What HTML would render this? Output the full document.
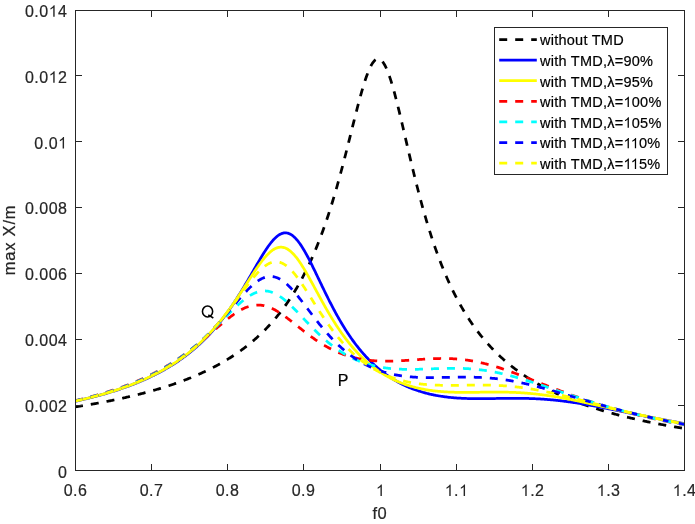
<!DOCTYPE html>
<html><head><meta charset="utf-8"><style>
html,body{margin:0;padding:0;background:#fff;}
svg{display:block;will-change:transform;}
text{font-family:"Liberation Sans",sans-serif;font-size:16px;fill:#262626;stroke:#262626;stroke-width:0.2;}
.tk{letter-spacing:0.5px;}
.al{font-size:16.5px;letter-spacing:0.8px;}
.lg{font-size:14.5px;letter-spacing:0.25px;fill:#000;stroke:#000;}
.bk{fill:#000;stroke:#000;}
.lg .g1{fill:#000;stroke:#000;}
.h1{fill:none;stroke:none;}
.g1{fill:#262626;stroke:#262626;stroke-width:0.2;}
</style></head><body>
<svg width="695" height="524" viewBox="0 0 695 524">
<rect width="695" height="524" fill="#fff"/>
<defs><clipPath id="c"><rect x="75" y="10" width="610" height="461"/></clipPath></defs>
<g clip-path="url(#c)">
<path d="M75.00 406.97 L75.76 406.85 L76.53 406.73 L77.29 406.61 L78.05 406.49 L78.81 406.37 L79.58 406.25 L80.34 406.12 L81.10 406.00 L81.86 405.88 L82.62 405.75 L83.39 405.63 L84.15 405.50 L84.91 405.38 L85.68 405.25 L86.44 405.12 L87.20 404.99 L87.96 404.87 L88.73 404.74 L89.49 404.61 L90.25 404.47 L91.01 404.34 L91.78 404.21 L92.54 404.08 L93.30 403.94 L94.06 403.81 L94.83 403.67 L95.59 403.53 L96.35 403.40 L97.11 403.26 L97.88 403.12 L98.64 402.98 L99.40 402.84 L100.16 402.70 L100.93 402.56 L101.69 402.42 L102.45 402.27 L103.21 402.13 L103.98 401.98 L104.74 401.84 L105.50 401.69 L106.26 401.54 L107.03 401.39 L107.79 401.24 L108.55 401.09 L109.31 400.94 L110.08 400.79 L110.84 400.64 L111.60 400.48 L112.36 400.33 L113.13 400.17 L113.89 400.02 L114.65 399.86 L115.41 399.70 L116.18 399.54 L116.94 399.38 L117.70 399.22 L118.46 399.06 L119.23 398.89 L119.99 398.73 L120.75 398.57 L121.51 398.40 L122.27 398.23 L123.04 398.06 L123.80 397.89 L124.56 397.72 L125.32 397.55 L126.09 397.38 L126.85 397.21 L127.61 397.03 L128.37 396.86 L129.14 396.68 L129.90 396.50 L130.66 396.32 L131.42 396.14 L132.19 395.96 L132.95 395.78 L133.71 395.60 L134.47 395.41 L135.24 395.23 L136.00 395.04 L136.76 394.85 L137.52 394.66 L138.29 394.47 L139.05 394.28 L139.81 394.09 L140.57 393.90 L141.34 393.70 L142.10 393.50 L142.86 393.31 L143.62 393.11 L144.39 392.91 L145.15 392.70 L145.91 392.50 L146.67 392.30 L147.44 392.09 L148.20 391.88 L148.96 391.68 L149.72 391.47 L150.49 391.25 L151.25 391.04 L152.01 390.83 L152.77 390.61 L153.54 390.40 L154.30 390.18 L155.06 389.96 L155.82 389.74 L156.59 389.51 L157.35 389.29 L158.11 389.06 L158.88 388.84 L159.64 388.61 L160.40 388.38 L161.16 388.14 L161.93 387.91 L162.69 387.67 L163.45 387.44 L164.21 387.20 L164.97 386.96 L165.74 386.72 L166.50 386.47 L167.26 386.23 L168.02 385.98 L168.79 385.73 L169.55 385.48 L170.31 385.23 L171.07 384.97 L171.84 384.72 L172.60 384.46 L173.36 384.20 L174.12 383.94 L174.89 383.67 L175.65 383.41 L176.41 383.14 L177.18 382.87 L177.94 382.60 L178.70 382.33 L179.46 382.05 L180.23 381.77 L180.99 381.49 L181.75 381.21 L182.51 380.93 L183.28 380.64 L184.04 380.35 L184.80 380.06 L185.56 379.77 L186.33 379.47 L187.09 379.18 L187.85 378.88 L188.61 378.58 L189.38 378.27 L190.14 377.96 L190.90 377.66 L191.66 377.34 L192.43 377.03 L193.19 376.71 L193.95 376.40 L194.71 376.07 L195.48 375.75 L196.24 375.42 L197.00 375.10 L197.76 374.76 L198.53 374.43 L199.29 374.09 L200.05 373.75 L200.81 373.41 L201.58 373.06 L202.34 372.72 L203.10 372.37 L203.86 372.01 L204.63 371.65 L205.39 371.29 L206.15 370.93 L206.91 370.57 L207.68 370.20 L208.44 369.82 L209.20 369.45 L209.96 369.07 L210.73 368.69 L211.49 368.30 L212.25 367.92 L213.01 367.52 L213.78 367.13 L214.54 366.73 L215.30 366.33 L216.06 365.92 L216.83 365.51 L217.59 365.10 L218.35 364.69 L219.11 364.27 L219.88 363.84 L220.64 363.41 L221.40 362.98 L222.16 362.55 L222.93 362.11 L223.69 361.67 L224.45 361.22 L225.21 360.77 L225.98 360.31 L226.74 359.85 L227.50 359.39 L228.26 358.92 L229.03 358.45 L229.79 357.97 L230.55 357.49 L231.31 357.00 L232.08 356.51 L232.84 356.02 L233.60 355.51 L234.36 355.01 L235.12 354.50 L235.89 353.98 L236.65 353.47 L237.41 352.94 L238.17 352.41 L238.94 351.87 L239.70 351.33 L240.46 350.79 L241.22 350.24 L241.99 349.68 L242.75 349.12 L243.51 348.55 L244.27 347.97 L245.04 347.39 L245.80 346.81 L246.56 346.22 L247.32 345.62 L248.09 345.01 L248.85 344.40 L249.61 343.79 L250.38 343.16 L251.14 342.53 L251.90 341.90 L252.66 341.25 L253.42 340.60 L254.19 339.95 L254.95 339.28 L255.71 338.61 L256.48 337.93 L257.24 337.25 L258.00 336.55 L258.76 335.85 L259.52 335.14 L260.29 334.43 L261.05 333.70 L261.81 332.97 L262.57 332.23 L263.34 331.48 L264.10 330.72 L264.86 329.95 L265.62 329.18 L266.39 328.39 L267.15 327.60 L267.91 326.80 L268.68 325.98 L269.44 325.16 L270.20 324.33 L270.96 323.49 L271.73 322.64 L272.49 321.78 L273.25 320.91 L274.01 320.02 L274.77 319.13 L275.54 318.23 L276.30 317.31 L277.06 316.39 L277.83 315.45 L278.59 314.50 L279.35 313.54 L280.11 312.57 L280.88 311.59 L281.64 310.59 L282.40 309.58 L283.16 308.56 L283.93 307.52 L284.69 306.47 L285.45 305.41 L286.21 304.34 L286.98 303.25 L287.74 302.14 L288.50 301.02 L289.26 299.89 L290.03 298.74 L290.79 297.58 L291.55 296.40 L292.31 295.21 L293.08 294.00 L293.84 292.77 L294.60 291.53 L295.36 290.27 L296.12 288.99 L296.89 287.70 L297.65 286.39 L298.41 285.06 L299.17 283.71 L299.94 282.34 L300.70 280.96 L301.46 279.55 L302.22 278.13 L302.99 276.68 L303.75 275.22 L304.51 273.73 L305.27 272.23 L306.04 270.70 L306.80 269.15 L307.56 267.58 L308.32 265.98 L309.09 264.37 L309.85 262.73 L310.61 261.06 L311.37 259.38 L312.14 257.67 L312.90 255.93 L313.66 254.17 L314.42 252.38 L315.19 250.57 L315.95 248.73 L316.71 246.87 L317.47 244.98 L318.24 243.06 L319.00 241.11 L319.76 239.13 L320.52 237.13 L321.29 235.10 L322.05 233.04 L322.81 230.95 L323.57 228.83 L324.34 226.68 L325.10 224.50 L325.86 222.29 L326.62 220.04 L327.39 217.77 L328.15 215.47 L328.91 213.13 L329.67 210.76 L330.44 208.36 L331.20 205.93 L331.96 203.47 L332.72 200.98 L333.49 198.45 L334.25 195.89 L335.01 193.30 L335.77 190.68 L336.54 188.03 L337.30 185.35 L338.06 182.63 L338.82 179.89 L339.59 177.12 L340.35 174.32 L341.11 171.49 L341.88 168.64 L342.64 165.76 L343.40 162.85 L344.16 159.92 L344.93 156.97 L345.69 154.00 L346.45 151.01 L347.21 148.01 L347.97 144.99 L348.74 141.96 L349.50 138.91 L350.26 135.86 L351.02 132.81 L351.79 129.75 L352.55 126.70 L353.31 123.65 L354.07 120.61 L354.84 117.59 L355.60 114.58 L356.36 111.59 L357.12 108.63 L357.89 105.69 L358.65 102.80 L359.41 99.94 L360.18 97.13 L360.94 94.38 L361.70 91.68 L362.46 89.04 L363.23 86.48 L363.99 83.99 L364.75 81.58 L365.51 79.26 L366.27 77.04 L367.04 74.92 L367.80 72.90 L368.56 71.00 L369.32 69.22 L370.09 67.56 L370.85 66.03 L371.61 64.64 L372.38 63.39 L373.14 62.28 L373.90 61.33 L374.66 60.52 L375.43 59.88 L376.19 59.39 L376.95 59.06 L377.71 58.90 L378.48 58.90 L379.24 59.06 L380.00 59.39 L380.76 59.89 L381.53 60.54 L382.29 61.36 L383.05 62.33 L383.81 63.46 L384.58 64.75 L385.34 66.17 L386.10 67.75 L386.86 69.46 L387.62 71.31 L388.39 73.28 L389.15 75.38 L389.91 77.59 L390.68 79.91 L391.44 82.34 L392.20 84.87 L392.96 87.48 L393.73 90.19 L394.49 92.97 L395.25 95.82 L396.01 98.74 L396.78 101.72 L397.54 104.75 L398.30 107.83 L399.06 110.95 L399.83 114.11 L400.59 117.30 L401.35 120.52 L402.11 123.76 L402.88 127.01 L403.64 130.28 L404.40 133.55 L405.16 136.83 L405.93 140.11 L406.69 143.39 L407.45 146.66 L408.21 149.92 L408.98 153.17 L409.74 156.41 L410.50 159.63 L411.26 162.83 L412.03 166.01 L412.79 169.16 L413.55 172.29 L414.31 175.40 L415.08 178.48 L415.84 181.53 L416.60 184.54 L417.36 187.53 L418.13 190.49 L418.89 193.41 L419.65 196.31 L420.41 199.17 L421.18 201.99 L421.94 204.78 L422.70 207.54 L423.46 210.26 L424.23 212.94 L424.99 215.60 L425.75 218.21 L426.51 220.80 L427.28 223.34 L428.04 225.86 L428.80 228.33 L429.56 230.78 L430.33 233.19 L431.09 235.56 L431.85 237.90 L432.61 240.21 L433.38 242.49 L434.14 244.73 L434.90 246.94 L435.66 249.12 L436.43 251.27 L437.19 253.38 L437.95 255.47 L438.71 257.52 L439.48 259.55 L440.24 261.54 L441.00 263.51 L441.76 265.45 L442.52 267.36 L443.29 269.24 L444.05 271.09 L444.81 272.92 L445.57 274.72 L446.34 276.50 L447.10 278.25 L447.86 279.97 L448.62 281.67 L449.39 283.34 L450.15 284.99 L450.91 286.62 L451.67 288.22 L452.44 289.80 L453.20 291.36 L453.96 292.90 L454.72 294.41 L455.49 295.90 L456.25 297.37 L457.01 298.83 L457.77 300.26 L458.54 301.67 L459.30 303.06 L460.06 304.43 L460.82 305.78 L461.59 307.12 L462.35 308.43 L463.11 309.73 L463.87 311.01 L464.64 312.28 L465.40 313.52 L466.16 314.75 L466.92 315.97 L467.69 317.17 L468.45 318.35 L469.21 319.51 L469.97 320.66 L470.74 321.80 L471.50 322.92 L472.26 324.03 L473.02 325.12 L473.79 326.20 L474.55 327.26 L475.31 328.31 L476.07 329.35 L476.84 330.37 L477.60 331.39 L478.36 332.38 L479.12 333.37 L479.89 334.35 L480.65 335.31 L481.41 336.26 L482.17 337.20 L482.94 338.12 L483.70 339.04 L484.46 339.95 L485.22 340.84 L485.99 341.72 L486.75 342.60 L487.51 343.46 L488.27 344.31 L489.04 345.15 L489.80 345.99 L490.56 346.81 L491.32 347.62 L492.09 348.43 L492.85 349.22 L493.61 350.01 L494.37 350.78 L495.14 351.55 L495.90 352.31 L496.66 353.06 L497.42 353.81 L498.19 354.54 L498.95 355.27 L499.71 355.98 L500.47 356.69 L501.24 357.40 L502.00 358.09 L502.76 358.78 L503.52 359.46 L504.29 360.13 L505.05 360.80 L505.81 361.45 L506.57 362.11 L507.34 362.75 L508.10 363.39 L508.86 364.02 L509.62 364.64 L510.39 365.26 L511.15 365.87 L511.91 366.48 L512.67 367.08 L513.44 367.67 L514.20 368.26 L514.96 368.84 L515.72 369.42 L516.49 369.98 L517.25 370.55 L518.01 371.11 L518.77 371.66 L519.54 372.21 L520.30 372.75 L521.06 373.29 L521.83 373.82 L522.59 374.34 L523.35 374.87 L524.11 375.38 L524.88 375.89 L525.64 376.40 L526.40 376.90 L527.16 377.40 L527.92 377.89 L528.69 378.38 L529.45 378.86 L530.21 379.34 L530.97 379.81 L531.74 380.28 L532.50 380.75 L533.26 381.21 L534.02 381.67 L534.79 382.12 L535.55 382.57 L536.31 383.01 L537.08 383.46 L537.84 383.89 L538.60 384.32 L539.36 384.75 L540.12 385.18 L540.89 385.60 L541.65 386.02 L542.41 386.43 L543.17 386.84 L543.94 387.25 L544.70 387.66 L545.46 388.06 L546.23 388.45 L546.99 388.85 L547.75 389.24 L548.51 389.62 L549.27 390.01 L550.04 390.39 L550.80 390.76 L551.56 391.14 L552.33 391.51 L553.09 391.88 L553.85 392.24 L554.61 392.60 L555.38 392.96 L556.14 393.32 L556.90 393.67 L557.66 394.02 L558.42 394.37 L559.19 394.71 L559.95 395.05 L560.71 395.39 L561.48 395.73 L562.24 396.06 L563.00 396.40 L563.76 396.72 L564.53 397.05 L565.29 397.37 L566.05 397.69 L566.81 398.01 L567.58 398.33 L568.34 398.64 L569.10 398.95 L569.86 399.26 L570.62 399.57 L571.39 399.87 L572.15 400.17 L572.91 400.47 L573.67 400.77 L574.44 401.07 L575.20 401.36 L575.96 401.65 L576.73 401.94 L577.49 402.22 L578.25 402.51 L579.01 402.79 L579.78 403.07 L580.54 403.35 L581.30 403.62 L582.06 403.90 L582.83 404.17 L583.59 404.44 L584.35 404.71 L585.11 404.98 L585.88 405.24 L586.64 405.50 L587.40 405.76 L588.16 406.02 L588.93 406.28 L589.69 406.53 L590.45 406.79 L591.21 407.04 L591.98 407.29 L592.74 407.54 L593.50 407.78 L594.26 408.03 L595.03 408.27 L595.79 408.51 L596.55 408.75 L597.31 408.99 L598.08 409.23 L598.84 409.46 L599.60 409.70 L600.36 409.93 L601.12 410.16 L601.89 410.39 L602.65 410.61 L603.41 410.84 L604.18 411.06 L604.94 411.29 L605.70 411.51 L606.46 411.73 L607.23 411.95 L607.99 412.16 L608.75 412.38 L609.51 412.59 L610.28 412.81 L611.04 413.02 L611.80 413.23 L612.56 413.44 L613.33 413.64 L614.09 413.85 L614.85 414.05 L615.61 414.26 L616.38 414.46 L617.14 414.66 L617.90 414.86 L618.66 415.06 L619.43 415.26 L620.19 415.45 L620.95 415.65 L621.71 415.84 L622.48 416.03 L623.24 416.22 L624.00 416.41 L624.76 416.60 L625.53 416.79 L626.29 416.98 L627.05 417.16 L627.81 417.35 L628.58 417.53 L629.34 417.71 L630.10 417.89 L630.86 418.07 L631.63 418.25 L632.39 418.43 L633.15 418.61 L633.91 418.78 L634.68 418.96 L635.44 419.13 L636.20 419.30 L636.96 419.47 L637.73 419.64 L638.49 419.81 L639.25 419.98 L640.01 420.15 L640.78 420.32 L641.54 420.48 L642.30 420.65 L643.06 420.81 L643.83 420.97 L644.59 421.14 L645.35 421.30 L646.11 421.46 L646.88 421.62 L647.64 421.78 L648.40 421.93 L649.16 422.09 L649.93 422.25 L650.69 422.40 L651.45 422.55 L652.21 422.71 L652.98 422.86 L653.74 423.01 L654.50 423.16 L655.26 423.31 L656.03 423.46 L656.79 423.61 L657.55 423.76 L658.31 423.90 L659.08 424.05 L659.84 424.19 L660.60 424.34 L661.36 424.48 L662.13 424.62 L662.89 424.77 L663.65 424.91 L664.41 425.05 L665.18 425.19 L665.94 425.33 L666.70 425.46 L667.46 425.60 L668.23 425.74 L668.99 425.87 L669.75 426.01 L670.51 426.14 L671.28 426.28 L672.04 426.41 L672.80 426.54 L673.56 426.67 L674.33 426.81 L675.09 426.94 L675.85 427.07 L676.61 427.20 L677.38 427.32 L678.14 427.45 L678.90 427.58 L679.66 427.71 L680.43 427.83 L681.19 427.96 L681.95 428.08 L682.71 428.20 L683.48 428.33 L684.24 428.45 L685.00 428.57" fill="none" stroke="#000000" stroke-width="2.75" stroke-dasharray="8 8" stroke-linejoin="round"/>
<path d="M75.00 401.29 L75.76 401.12 L76.53 400.95 L77.29 400.79 L78.05 400.61 L78.81 400.44 L79.58 400.27 L80.34 400.10 L81.10 399.92 L81.86 399.75 L82.62 399.57 L83.39 399.39 L84.15 399.21 L84.91 399.03 L85.68 398.85 L86.44 398.66 L87.20 398.48 L87.96 398.29 L88.73 398.10 L89.49 397.91 L90.25 397.72 L91.01 397.53 L91.78 397.34 L92.54 397.14 L93.30 396.95 L94.06 396.75 L94.83 396.55 L95.59 396.35 L96.35 396.15 L97.11 395.95 L97.88 395.74 L98.64 395.53 L99.40 395.33 L100.16 395.12 L100.93 394.91 L101.69 394.69 L102.45 394.48 L103.21 394.26 L103.98 394.05 L104.74 393.83 L105.50 393.61 L106.26 393.39 L107.03 393.16 L107.79 392.94 L108.55 392.71 L109.31 392.48 L110.08 392.25 L110.84 392.02 L111.60 391.78 L112.36 391.55 L113.13 391.31 L113.89 391.07 L114.65 390.83 L115.41 390.58 L116.18 390.34 L116.94 390.09 L117.70 389.84 L118.46 389.59 L119.23 389.33 L119.99 389.08 L120.75 388.82 L121.51 388.56 L122.27 388.30 L123.04 388.03 L123.80 387.77 L124.56 387.50 L125.32 387.23 L126.09 386.96 L126.85 386.68 L127.61 386.40 L128.37 386.12 L129.14 385.84 L129.90 385.56 L130.66 385.27 L131.42 384.98 L132.19 384.69 L132.95 384.39 L133.71 384.10 L134.47 383.80 L135.24 383.50 L136.00 383.19 L136.76 382.88 L137.52 382.57 L138.29 382.26 L139.05 381.95 L139.81 381.63 L140.57 381.31 L141.34 380.98 L142.10 380.66 L142.86 380.33 L143.62 380.00 L144.39 379.66 L145.15 379.32 L145.91 378.98 L146.67 378.64 L147.44 378.29 L148.20 377.94 L148.96 377.58 L149.72 377.23 L150.49 376.86 L151.25 376.50 L152.01 376.13 L152.77 375.76 L153.54 375.39 L154.30 375.01 L155.06 374.63 L155.82 374.24 L156.59 373.85 L157.35 373.46 L158.11 373.07 L158.88 372.67 L159.64 372.26 L160.40 371.85 L161.16 371.44 L161.93 371.03 L162.69 370.61 L163.45 370.18 L164.21 369.75 L164.97 369.32 L165.74 368.89 L166.50 368.44 L167.26 368.00 L168.02 367.55 L168.79 367.09 L169.55 366.64 L170.31 366.17 L171.07 365.70 L171.84 365.23 L172.60 364.75 L173.36 364.27 L174.12 363.78 L174.89 363.29 L175.65 362.79 L176.41 362.29 L177.18 361.78 L177.94 361.27 L178.70 360.75 L179.46 360.22 L180.23 359.69 L180.99 359.16 L181.75 358.61 L182.51 358.07 L183.28 357.51 L184.04 356.96 L184.80 356.39 L185.56 355.82 L186.33 355.24 L187.09 354.66 L187.85 354.07 L188.61 353.47 L189.38 352.87 L190.14 352.26 L190.90 351.64 L191.66 351.02 L192.43 350.39 L193.19 349.75 L193.95 349.11 L194.71 348.46 L195.48 347.80 L196.24 347.13 L197.00 346.46 L197.76 345.78 L198.53 345.09 L199.29 344.39 L200.05 343.69 L200.81 342.98 L201.58 342.25 L202.34 341.53 L203.10 340.79 L203.86 340.04 L204.63 339.29 L205.39 338.53 L206.15 337.76 L206.91 336.98 L207.68 336.19 L208.44 335.39 L209.20 334.58 L209.96 333.77 L210.73 332.94 L211.49 332.11 L212.25 331.26 L213.01 330.41 L213.78 329.54 L214.54 328.67 L215.30 327.79 L216.06 326.89 L216.83 325.99 L217.59 325.07 L218.35 324.15 L219.11 323.21 L219.88 322.27 L220.64 321.31 L221.40 320.35 L222.16 319.37 L222.93 318.38 L223.69 317.38 L224.45 316.37 L225.21 315.35 L225.98 314.32 L226.74 313.28 L227.50 312.22 L228.26 311.16 L229.03 310.08 L229.79 309.00 L230.55 307.90 L231.31 306.79 L232.08 305.67 L232.84 304.54 L233.60 303.40 L234.36 302.24 L235.12 301.08 L235.89 299.91 L236.65 298.72 L237.41 297.53 L238.17 296.32 L238.94 295.11 L239.70 293.89 L240.46 292.65 L241.22 291.41 L241.99 290.16 L242.75 288.90 L243.51 287.63 L244.27 286.35 L245.04 285.07 L245.80 283.78 L246.56 282.48 L247.32 281.17 L248.09 279.86 L248.85 278.55 L249.61 277.23 L250.38 275.91 L251.14 274.59 L251.90 273.26 L252.66 271.93 L253.42 270.60 L254.19 269.27 L254.95 267.95 L255.71 266.62 L256.48 265.30 L257.24 263.99 L258.00 262.68 L258.76 261.38 L259.52 260.08 L260.29 258.80 L261.05 257.53 L261.81 256.27 L262.57 255.02 L263.34 253.79 L264.10 252.58 L264.86 251.38 L265.62 250.21 L266.39 249.06 L267.15 247.93 L267.91 246.83 L268.68 245.76 L269.44 244.72 L270.20 243.71 L270.96 242.73 L271.73 241.79 L272.49 240.88 L273.25 240.02 L274.01 239.19 L274.77 238.41 L275.54 237.68 L276.30 236.98 L277.06 236.34 L277.83 235.75 L278.59 235.21 L279.35 234.72 L280.11 234.29 L280.88 233.91 L281.64 233.59 L282.40 233.32 L283.16 233.12 L283.93 232.97 L284.69 232.89 L285.45 232.86 L286.21 232.90 L286.98 233.00 L287.74 233.17 L288.50 233.39 L289.26 233.68 L290.03 234.02 L290.79 234.43 L291.55 234.90 L292.31 235.43 L293.08 236.02 L293.84 236.67 L294.60 237.37 L295.36 238.13 L296.12 238.95 L296.89 239.81 L297.65 240.73 L298.41 241.70 L299.17 242.72 L299.94 243.78 L300.70 244.89 L301.46 246.04 L302.22 247.23 L302.99 248.46 L303.75 249.72 L304.51 251.02 L305.27 252.35 L306.04 253.72 L306.80 255.11 L307.56 256.52 L308.32 257.97 L309.09 259.43 L309.85 260.91 L310.61 262.42 L311.37 263.94 L312.14 265.47 L312.90 267.02 L313.66 268.58 L314.42 270.14 L315.19 271.72 L315.95 273.30 L316.71 274.89 L317.47 276.48 L318.24 278.08 L319.00 279.67 L319.76 281.27 L320.52 282.86 L321.29 284.45 L322.05 286.04 L322.81 287.62 L323.57 289.19 L324.34 290.76 L325.10 292.33 L325.86 293.88 L326.62 295.43 L327.39 296.96 L328.15 298.49 L328.91 300.01 L329.67 301.51 L330.44 303.00 L331.20 304.48 L331.96 305.95 L332.72 307.40 L333.49 308.85 L334.25 310.27 L335.01 311.69 L335.77 313.09 L336.54 314.47 L337.30 315.84 L338.06 317.20 L338.82 318.54 L339.59 319.87 L340.35 321.18 L341.11 322.47 L341.88 323.75 L342.64 325.02 L343.40 326.27 L344.16 327.50 L344.93 328.72 L345.69 329.93 L346.45 331.12 L347.21 332.29 L347.97 333.45 L348.74 334.59 L349.50 335.72 L350.26 336.83 L351.02 337.93 L351.79 339.02 L352.55 340.09 L353.31 341.14 L354.07 342.18 L354.84 343.21 L355.60 344.22 L356.36 345.22 L357.12 346.20 L357.89 347.17 L358.65 348.12 L359.41 349.07 L360.18 350.00 L360.94 350.91 L361.70 351.81 L362.46 352.70 L363.23 353.58 L363.99 354.44 L364.75 355.29 L365.51 356.13 L366.27 356.96 L367.04 357.77 L367.80 358.57 L368.56 359.36 L369.32 360.14 L370.09 360.91 L370.85 361.66 L371.61 362.41 L372.38 363.14 L373.14 363.86 L373.90 364.57 L374.66 365.27 L375.43 365.96 L376.19 366.63 L376.95 367.30 L377.71 367.96 L378.48 368.60 L379.24 369.24 L380.00 369.87 L380.76 370.49 L381.53 371.09 L382.29 371.69 L383.05 372.28 L383.81 372.86 L384.58 373.43 L385.34 373.99 L386.10 374.54 L386.86 375.08 L387.62 375.61 L388.39 376.14 L389.15 376.66 L389.91 377.16 L390.68 377.66 L391.44 378.15 L392.20 378.64 L392.96 379.11 L393.73 379.58 L394.49 380.04 L395.25 380.49 L396.01 380.93 L396.78 381.37 L397.54 381.80 L398.30 382.22 L399.06 382.63 L399.83 383.04 L400.59 383.44 L401.35 383.83 L402.11 384.21 L402.88 384.59 L403.64 384.96 L404.40 385.33 L405.16 385.68 L405.93 386.04 L406.69 386.38 L407.45 386.72 L408.21 387.05 L408.98 387.38 L409.74 387.69 L410.50 388.01 L411.26 388.32 L412.03 388.62 L412.79 388.91 L413.55 389.20 L414.31 389.48 L415.08 389.76 L415.84 390.03 L416.60 390.30 L417.36 390.56 L418.13 390.82 L418.89 391.07 L419.65 391.31 L420.41 391.55 L421.18 391.79 L421.94 392.02 L422.70 392.24 L423.46 392.46 L424.23 392.67 L424.99 392.88 L425.75 393.09 L426.51 393.29 L427.28 393.48 L428.04 393.67 L428.80 393.86 L429.56 394.04 L430.33 394.22 L431.09 394.39 L431.85 394.56 L432.61 394.72 L433.38 394.88 L434.14 395.04 L434.90 395.19 L435.66 395.33 L436.43 395.48 L437.19 395.62 L437.95 395.75 L438.71 395.88 L439.48 396.01 L440.24 396.13 L441.00 396.25 L441.76 396.37 L442.52 396.48 L443.29 396.59 L444.05 396.70 L444.81 396.80 L445.57 396.90 L446.34 396.99 L447.10 397.08 L447.86 397.17 L448.62 397.26 L449.39 397.34 L450.15 397.42 L450.91 397.50 L451.67 397.57 L452.44 397.64 L453.20 397.71 L453.96 397.78 L454.72 397.84 L455.49 397.90 L456.25 397.95 L457.01 398.01 L457.77 398.06 L458.54 398.11 L459.30 398.16 L460.06 398.20 L460.82 398.24 L461.59 398.28 L462.35 398.32 L463.11 398.35 L463.87 398.39 L464.64 398.42 L465.40 398.45 L466.16 398.47 L466.92 398.50 L467.69 398.52 L468.45 398.54 L469.21 398.56 L469.97 398.58 L470.74 398.60 L471.50 398.61 L472.26 398.62 L473.02 398.64 L473.79 398.65 L474.55 398.65 L475.31 398.66 L476.07 398.67 L476.84 398.67 L477.60 398.67 L478.36 398.68 L479.12 398.68 L479.89 398.68 L480.65 398.67 L481.41 398.67 L482.17 398.67 L482.94 398.66 L483.70 398.66 L484.46 398.65 L485.22 398.65 L485.99 398.64 L486.75 398.63 L487.51 398.62 L488.27 398.61 L489.04 398.61 L489.80 398.60 L490.56 398.58 L491.32 398.57 L492.09 398.56 L492.85 398.55 L493.61 398.54 L494.37 398.53 L495.14 398.52 L495.90 398.50 L496.66 398.49 L497.42 398.48 L498.19 398.47 L498.95 398.46 L499.71 398.44 L500.47 398.43 L501.24 398.42 L502.00 398.41 L502.76 398.40 L503.52 398.39 L504.29 398.38 L505.05 398.37 L505.81 398.36 L506.57 398.35 L507.34 398.35 L508.10 398.34 L508.86 398.33 L509.62 398.33 L510.39 398.32 L511.15 398.32 L511.91 398.31 L512.67 398.31 L513.44 398.31 L514.20 398.31 L514.96 398.30 L515.72 398.31 L516.49 398.31 L517.25 398.31 L518.01 398.31 L518.77 398.32 L519.54 398.32 L520.30 398.33 L521.06 398.34 L521.83 398.35 L522.59 398.36 L523.35 398.37 L524.11 398.38 L524.88 398.40 L525.64 398.41 L526.40 398.43 L527.16 398.45 L527.92 398.47 L528.69 398.49 L529.45 398.51 L530.21 398.54 L530.97 398.56 L531.74 398.59 L532.50 398.62 L533.26 398.65 L534.02 398.68 L534.79 398.71 L535.55 398.75 L536.31 398.78 L537.08 398.82 L537.84 398.86 L538.60 398.90 L539.36 398.95 L540.12 398.99 L540.89 399.04 L541.65 399.08 L542.41 399.13 L543.17 399.18 L543.94 399.23 L544.70 399.29 L545.46 399.34 L546.23 399.40 L546.99 399.46 L547.75 399.52 L548.51 399.58 L549.27 399.65 L550.04 399.71 L550.80 399.78 L551.56 399.85 L552.33 399.92 L553.09 399.99 L553.85 400.07 L554.61 400.14 L555.38 400.22 L556.14 400.30 L556.90 400.38 L557.66 400.46 L558.42 400.54 L559.19 400.63 L559.95 400.72 L560.71 400.80 L561.48 400.89 L562.24 400.99 L563.00 401.08 L563.76 401.17 L564.53 401.27 L565.29 401.37 L566.05 401.46 L566.81 401.56 L567.58 401.67 L568.34 401.77 L569.10 401.87 L569.86 401.98 L570.62 402.09 L571.39 402.20 L572.15 402.31 L572.91 402.42 L573.67 402.53 L574.44 402.64 L575.20 402.76 L575.96 402.87 L576.73 402.99 L577.49 403.11 L578.25 403.23 L579.01 403.35 L579.78 403.47 L580.54 403.60 L581.30 403.72 L582.06 403.85 L582.83 403.98 L583.59 404.10 L584.35 404.23 L585.11 404.36 L585.88 404.49 L586.64 404.62 L587.40 404.76 L588.16 404.89 L588.93 405.03 L589.69 405.16 L590.45 405.30 L591.21 405.43 L591.98 405.57 L592.74 405.71 L593.50 405.85 L594.26 405.99 L595.03 406.13 L595.79 406.27 L596.55 406.42 L597.31 406.56 L598.08 406.70 L598.84 406.85 L599.60 406.99 L600.36 407.14 L601.12 407.29 L601.89 407.43 L602.65 407.58 L603.41 407.73 L604.18 407.88 L604.94 408.03 L605.70 408.17 L606.46 408.32 L607.23 408.47 L607.99 408.63 L608.75 408.78 L609.51 408.93 L610.28 409.08 L611.04 409.23 L611.80 409.38 L612.56 409.54 L613.33 409.69 L614.09 409.84 L614.85 410.00 L615.61 410.15 L616.38 410.30 L617.14 410.46 L617.90 410.61 L618.66 410.77 L619.43 410.92 L620.19 411.08 L620.95 411.23 L621.71 411.39 L622.48 411.54 L623.24 411.70 L624.00 411.85 L624.76 412.01 L625.53 412.16 L626.29 412.32 L627.05 412.48 L627.81 412.63 L628.58 412.79 L629.34 412.94 L630.10 413.10 L630.86 413.25 L631.63 413.41 L632.39 413.56 L633.15 413.72 L633.91 413.87 L634.68 414.03 L635.44 414.18 L636.20 414.34 L636.96 414.49 L637.73 414.65 L638.49 414.80 L639.25 414.96 L640.01 415.11 L640.78 415.26 L641.54 415.42 L642.30 415.57 L643.06 415.72 L643.83 415.88 L644.59 416.03 L645.35 416.18 L646.11 416.34 L646.88 416.49 L647.64 416.64 L648.40 416.79 L649.16 416.94 L649.93 417.09 L650.69 417.24 L651.45 417.39 L652.21 417.54 L652.98 417.69 L653.74 417.84 L654.50 417.99 L655.26 418.14 L656.03 418.29 L656.79 418.44 L657.55 418.59 L658.31 418.73 L659.08 418.88 L659.84 419.03 L660.60 419.18 L661.36 419.32 L662.13 419.47 L662.89 419.61 L663.65 419.76 L664.41 419.90 L665.18 420.05 L665.94 420.19 L666.70 420.34 L667.46 420.48 L668.23 420.62 L668.99 420.76 L669.75 420.91 L670.51 421.05 L671.28 421.19 L672.04 421.33 L672.80 421.47 L673.56 421.61 L674.33 421.75 L675.09 421.89 L675.85 422.03 L676.61 422.17 L677.38 422.30 L678.14 422.44 L678.90 422.58 L679.66 422.71 L680.43 422.85 L681.19 422.99 L681.95 423.12 L682.71 423.26 L683.48 423.39 L684.24 423.53 L685.00 423.66" fill="none" stroke="#0000ff" stroke-width="2.75" stroke-linejoin="round"/>
<path d="M75.00 401.19 L75.76 401.02 L76.53 400.85 L77.29 400.68 L78.05 400.51 L78.81 400.34 L79.58 400.16 L80.34 399.99 L81.10 399.81 L81.86 399.63 L82.62 399.46 L83.39 399.28 L84.15 399.09 L84.91 398.91 L85.68 398.73 L86.44 398.54 L87.20 398.36 L87.96 398.17 L88.73 397.98 L89.49 397.79 L90.25 397.60 L91.01 397.40 L91.78 397.21 L92.54 397.01 L93.30 396.81 L94.06 396.61 L94.83 396.41 L95.59 396.21 L96.35 396.01 L97.11 395.80 L97.88 395.60 L98.64 395.39 L99.40 395.18 L100.16 394.97 L100.93 394.75 L101.69 394.54 L102.45 394.32 L103.21 394.11 L103.98 393.89 L104.74 393.67 L105.50 393.44 L106.26 393.22 L107.03 392.99 L107.79 392.77 L108.55 392.54 L109.31 392.30 L110.08 392.07 L110.84 391.84 L111.60 391.60 L112.36 391.36 L113.13 391.12 L113.89 390.88 L114.65 390.63 L115.41 390.39 L116.18 390.14 L116.94 389.89 L117.70 389.64 L118.46 389.38 L119.23 389.13 L119.99 388.87 L120.75 388.61 L121.51 388.35 L122.27 388.08 L123.04 387.81 L123.80 387.54 L124.56 387.27 L125.32 387.00 L126.09 386.72 L126.85 386.45 L127.61 386.16 L128.37 385.88 L129.14 385.60 L129.90 385.31 L130.66 385.02 L131.42 384.73 L132.19 384.43 L132.95 384.13 L133.71 383.83 L134.47 383.53 L135.24 383.23 L136.00 382.92 L136.76 382.61 L137.52 382.29 L138.29 381.98 L139.05 381.66 L139.81 381.34 L140.57 381.01 L141.34 380.68 L142.10 380.35 L142.86 380.02 L143.62 379.68 L144.39 379.34 L145.15 379.00 L145.91 378.66 L146.67 378.31 L147.44 377.96 L148.20 377.60 L148.96 377.24 L149.72 376.88 L150.49 376.52 L151.25 376.15 L152.01 375.78 L152.77 375.40 L153.54 375.02 L154.30 374.64 L155.06 374.25 L155.82 373.86 L156.59 373.47 L157.35 373.07 L158.11 372.67 L158.88 372.27 L159.64 371.86 L160.40 371.44 L161.16 371.03 L161.93 370.61 L162.69 370.18 L163.45 369.75 L164.21 369.32 L164.97 368.88 L165.74 368.44 L166.50 367.99 L167.26 367.54 L168.02 367.09 L168.79 366.63 L169.55 366.16 L170.31 365.70 L171.07 365.22 L171.84 364.74 L172.60 364.26 L173.36 363.77 L174.12 363.28 L174.89 362.78 L175.65 362.28 L176.41 361.77 L177.18 361.25 L177.94 360.73 L178.70 360.21 L179.46 359.68 L180.23 359.14 L180.99 358.60 L181.75 358.05 L182.51 357.50 L183.28 356.94 L184.04 356.38 L184.80 355.81 L185.56 355.23 L186.33 354.65 L187.09 354.06 L187.85 353.46 L188.61 352.86 L189.38 352.25 L190.14 351.64 L190.90 351.02 L191.66 350.39 L192.43 349.75 L193.19 349.11 L193.95 348.46 L194.71 347.81 L195.48 347.14 L196.24 346.47 L197.00 345.80 L197.76 345.11 L198.53 344.42 L199.29 343.72 L200.05 343.01 L200.81 342.30 L201.58 341.57 L202.34 340.84 L203.10 340.10 L203.86 339.36 L204.63 338.60 L205.39 337.84 L206.15 337.07 L206.91 336.29 L207.68 335.50 L208.44 334.70 L209.20 333.89 L209.96 333.08 L210.73 332.26 L211.49 331.42 L212.25 330.58 L213.01 329.73 L213.78 328.87 L214.54 328.01 L215.30 327.13 L216.06 326.24 L216.83 325.35 L217.59 324.44 L218.35 323.53 L219.11 322.60 L219.88 321.67 L220.64 320.73 L221.40 319.78 L222.16 318.82 L222.93 317.85 L223.69 316.87 L224.45 315.88 L225.21 314.88 L225.98 313.87 L226.74 312.85 L227.50 311.83 L228.26 310.79 L229.03 309.75 L229.79 308.69 L230.55 307.63 L231.31 306.56 L232.08 305.48 L232.84 304.40 L233.60 303.30 L234.36 302.20 L235.12 301.09 L235.89 299.97 L236.65 298.84 L237.41 297.71 L238.17 296.57 L238.94 295.43 L239.70 294.27 L240.46 293.12 L241.22 291.96 L241.99 290.79 L242.75 289.62 L243.51 288.45 L244.27 287.27 L245.04 286.09 L245.80 284.91 L246.56 283.73 L247.32 282.55 L248.09 281.36 L248.85 280.18 L249.61 279.01 L250.38 277.83 L251.14 276.66 L251.90 275.49 L252.66 274.33 L253.42 273.17 L254.19 272.02 L254.95 270.89 L255.71 269.76 L256.48 268.64 L257.24 267.54 L258.00 266.44 L258.76 265.37 L259.52 264.31 L260.29 263.27 L261.05 262.24 L261.81 261.24 L262.57 260.26 L263.34 259.31 L264.10 258.37 L264.86 257.47 L265.62 256.59 L266.39 255.75 L267.15 254.93 L267.91 254.15 L268.68 253.40 L269.44 252.68 L270.20 252.01 L270.96 251.37 L271.73 250.77 L272.49 250.22 L273.25 249.71 L274.01 249.24 L274.77 248.81 L275.54 248.43 L276.30 248.10 L277.06 247.82 L277.83 247.59 L278.59 247.41 L279.35 247.27 L280.11 247.19 L280.88 247.16 L281.64 247.19 L282.40 247.26 L283.16 247.39 L283.93 247.57 L284.69 247.80 L285.45 248.09 L286.21 248.43 L286.98 248.81 L287.74 249.25 L288.50 249.74 L289.26 250.29 L290.03 250.87 L290.79 251.51 L291.55 252.19 L292.31 252.92 L293.08 253.70 L293.84 254.52 L294.60 255.38 L295.36 256.28 L296.12 257.21 L296.89 258.19 L297.65 259.20 L298.41 260.25 L299.17 261.33 L299.94 262.44 L300.70 263.58 L301.46 264.75 L302.22 265.94 L302.99 267.16 L303.75 268.40 L304.51 269.67 L305.27 270.95 L306.04 272.25 L306.80 273.57 L307.56 274.90 L308.32 276.25 L309.09 277.60 L309.85 278.97 L310.61 280.35 L311.37 281.73 L312.14 283.12 L312.90 284.52 L313.66 285.92 L314.42 287.32 L315.19 288.73 L315.95 290.13 L316.71 291.54 L317.47 292.94 L318.24 294.35 L319.00 295.74 L319.76 297.14 L320.52 298.53 L321.29 299.91 L322.05 301.29 L322.81 302.66 L323.57 304.03 L324.34 305.38 L325.10 306.73 L325.86 308.07 L326.62 309.39 L327.39 310.71 L328.15 312.02 L328.91 313.32 L329.67 314.60 L330.44 315.88 L331.20 317.14 L331.96 318.39 L332.72 319.63 L333.49 320.86 L334.25 322.07 L335.01 323.27 L335.77 324.46 L336.54 325.64 L337.30 326.80 L338.06 327.95 L338.82 329.08 L339.59 330.20 L340.35 331.31 L341.11 332.41 L341.88 333.49 L342.64 334.56 L343.40 335.61 L344.16 336.66 L344.93 337.68 L345.69 338.70 L346.45 339.70 L347.21 340.69 L347.97 341.66 L348.74 342.62 L349.50 343.57 L350.26 344.51 L351.02 345.43 L351.79 346.34 L352.55 347.24 L353.31 348.12 L354.07 349.00 L354.84 349.85 L355.60 350.70 L356.36 351.54 L357.12 352.36 L357.89 353.17 L358.65 353.97 L359.41 354.75 L360.18 355.53 L360.94 356.29 L361.70 357.04 L362.46 357.78 L363.23 358.51 L363.99 359.23 L364.75 359.94 L365.51 360.63 L366.27 361.32 L367.04 361.99 L367.80 362.66 L368.56 363.31 L369.32 363.95 L370.09 364.58 L370.85 365.21 L371.61 365.82 L372.38 366.42 L373.14 367.01 L373.90 367.60 L374.66 368.17 L375.43 368.73 L376.19 369.29 L376.95 369.83 L377.71 370.37 L378.48 370.90 L379.24 371.41 L380.00 371.92 L380.76 372.42 L381.53 372.92 L382.29 373.40 L383.05 373.87 L383.81 374.34 L384.58 374.80 L385.34 375.25 L386.10 375.69 L386.86 376.12 L387.62 376.55 L388.39 376.97 L389.15 377.38 L389.91 377.78 L390.68 378.18 L391.44 378.56 L392.20 378.95 L392.96 379.32 L393.73 379.69 L394.49 380.04 L395.25 380.40 L396.01 380.74 L396.78 381.08 L397.54 381.41 L398.30 381.74 L399.06 382.06 L399.83 382.37 L400.59 382.67 L401.35 382.97 L402.11 383.27 L402.88 383.55 L403.64 383.83 L404.40 384.11 L405.16 384.38 L405.93 384.64 L406.69 384.90 L407.45 385.15 L408.21 385.39 L408.98 385.63 L409.74 385.87 L410.50 386.10 L411.26 386.32 L412.03 386.54 L412.79 386.75 L413.55 386.96 L414.31 387.16 L415.08 387.36 L415.84 387.56 L416.60 387.74 L417.36 387.93 L418.13 388.10 L418.89 388.28 L419.65 388.45 L420.41 388.61 L421.18 388.77 L421.94 388.93 L422.70 389.08 L423.46 389.22 L424.23 389.37 L424.99 389.51 L425.75 389.64 L426.51 389.77 L427.28 389.90 L428.04 390.02 L428.80 390.14 L429.56 390.25 L430.33 390.36 L431.09 390.47 L431.85 390.57 L432.61 390.67 L433.38 390.77 L434.14 390.86 L434.90 390.95 L435.66 391.03 L436.43 391.12 L437.19 391.19 L437.95 391.27 L438.71 391.34 L439.48 391.41 L440.24 391.48 L441.00 391.54 L441.76 391.60 L442.52 391.66 L443.29 391.72 L444.05 391.77 L444.81 391.82 L445.57 391.87 L446.34 391.91 L447.10 391.96 L447.86 392.00 L448.62 392.03 L449.39 392.07 L450.15 392.10 L450.91 392.13 L451.67 392.16 L452.44 392.19 L453.20 392.21 L453.96 392.24 L454.72 392.26 L455.49 392.28 L456.25 392.29 L457.01 392.31 L457.77 392.32 L458.54 392.34 L459.30 392.35 L460.06 392.36 L460.82 392.36 L461.59 392.37 L462.35 392.38 L463.11 392.38 L463.87 392.38 L464.64 392.38 L465.40 392.38 L466.16 392.38 L466.92 392.38 L467.69 392.38 L468.45 392.37 L469.21 392.37 L469.97 392.37 L470.74 392.36 L471.50 392.35 L472.26 392.35 L473.02 392.34 L473.79 392.33 L474.55 392.32 L475.31 392.31 L476.07 392.30 L476.84 392.29 L477.60 392.28 L478.36 392.27 L479.12 392.26 L479.89 392.25 L480.65 392.24 L481.41 392.23 L482.17 392.22 L482.94 392.21 L483.70 392.20 L484.46 392.19 L485.22 392.18 L485.99 392.17 L486.75 392.16 L487.51 392.15 L488.27 392.14 L489.04 392.14 L489.80 392.13 L490.56 392.12 L491.32 392.12 L492.09 392.11 L492.85 392.11 L493.61 392.10 L494.37 392.10 L495.14 392.10 L495.90 392.10 L496.66 392.10 L497.42 392.10 L498.19 392.10 L498.95 392.10 L499.71 392.11 L500.47 392.11 L501.24 392.12 L502.00 392.12 L502.76 392.13 L503.52 392.14 L504.29 392.15 L505.05 392.16 L505.81 392.18 L506.57 392.19 L507.34 392.21 L508.10 392.23 L508.86 392.25 L509.62 392.27 L510.39 392.29 L511.15 392.31 L511.91 392.34 L512.67 392.37 L513.44 392.39 L514.20 392.42 L514.96 392.46 L515.72 392.49 L516.49 392.53 L517.25 392.56 L518.01 392.60 L518.77 392.64 L519.54 392.68 L520.30 392.73 L521.06 392.77 L521.83 392.82 L522.59 392.87 L523.35 392.92 L524.11 392.97 L524.88 393.03 L525.64 393.09 L526.40 393.14 L527.16 393.20 L527.92 393.27 L528.69 393.33 L529.45 393.40 L530.21 393.46 L530.97 393.53 L531.74 393.61 L532.50 393.68 L533.26 393.75 L534.02 393.83 L534.79 393.91 L535.55 393.99 L536.31 394.07 L537.08 394.16 L537.84 394.25 L538.60 394.33 L539.36 394.42 L540.12 394.52 L540.89 394.61 L541.65 394.70 L542.41 394.80 L543.17 394.90 L543.94 395.00 L544.70 395.10 L545.46 395.21 L546.23 395.31 L546.99 395.42 L547.75 395.53 L548.51 395.64 L549.27 395.75 L550.04 395.87 L550.80 395.98 L551.56 396.10 L552.33 396.22 L553.09 396.34 L553.85 396.46 L554.61 396.59 L555.38 396.71 L556.14 396.84 L556.90 396.97 L557.66 397.10 L558.42 397.23 L559.19 397.36 L559.95 397.49 L560.71 397.63 L561.48 397.77 L562.24 397.90 L563.00 398.04 L563.76 398.18 L564.53 398.33 L565.29 398.47 L566.05 398.61 L566.81 398.76 L567.58 398.90 L568.34 399.05 L569.10 399.20 L569.86 399.35 L570.62 399.50 L571.39 399.65 L572.15 399.81 L572.91 399.96 L573.67 400.11 L574.44 400.27 L575.20 400.43 L575.96 400.58 L576.73 400.74 L577.49 400.90 L578.25 401.06 L579.01 401.22 L579.78 401.39 L580.54 401.55 L581.30 401.71 L582.06 401.87 L582.83 402.04 L583.59 402.20 L584.35 402.37 L585.11 402.54 L585.88 402.70 L586.64 402.87 L587.40 403.04 L588.16 403.21 L588.93 403.38 L589.69 403.55 L590.45 403.72 L591.21 403.89 L591.98 404.06 L592.74 404.23 L593.50 404.40 L594.26 404.57 L595.03 404.74 L595.79 404.92 L596.55 405.09 L597.31 405.26 L598.08 405.44 L598.84 405.61 L599.60 405.78 L600.36 405.96 L601.12 406.13 L601.89 406.31 L602.65 406.48 L603.41 406.65 L604.18 406.83 L604.94 407.00 L605.70 407.18 L606.46 407.35 L607.23 407.53 L607.99 407.70 L608.75 407.88 L609.51 408.05 L610.28 408.23 L611.04 408.40 L611.80 408.58 L612.56 408.75 L613.33 408.93 L614.09 409.10 L614.85 409.28 L615.61 409.45 L616.38 409.63 L617.14 409.80 L617.90 409.98 L618.66 410.15 L619.43 410.32 L620.19 410.50 L620.95 410.67 L621.71 410.84 L622.48 411.02 L623.24 411.19 L624.00 411.36 L624.76 411.53 L625.53 411.71 L626.29 411.88 L627.05 412.05 L627.81 412.22 L628.58 412.39 L629.34 412.56 L630.10 412.73 L630.86 412.90 L631.63 413.07 L632.39 413.24 L633.15 413.41 L633.91 413.58 L634.68 413.75 L635.44 413.91 L636.20 414.08 L636.96 414.25 L637.73 414.41 L638.49 414.58 L639.25 414.75 L640.01 414.91 L640.78 415.08 L641.54 415.24 L642.30 415.41 L643.06 415.57 L643.83 415.73 L644.59 415.90 L645.35 416.06 L646.11 416.22 L646.88 416.38 L647.64 416.54 L648.40 416.70 L649.16 416.86 L649.93 417.02 L650.69 417.18 L651.45 417.34 L652.21 417.50 L652.98 417.66 L653.74 417.82 L654.50 417.97 L655.26 418.13 L656.03 418.29 L656.79 418.44 L657.55 418.60 L658.31 418.75 L659.08 418.90 L659.84 419.06 L660.60 419.21 L661.36 419.36 L662.13 419.52 L662.89 419.67 L663.65 419.82 L664.41 419.97 L665.18 420.12 L665.94 420.27 L666.70 420.42 L667.46 420.56 L668.23 420.71 L668.99 420.86 L669.75 421.01 L670.51 421.15 L671.28 421.30 L672.04 421.44 L672.80 421.59 L673.56 421.73 L674.33 421.88 L675.09 422.02 L675.85 422.16 L676.61 422.30 L677.38 422.45 L678.14 422.59 L678.90 422.73 L679.66 422.87 L680.43 423.01 L681.19 423.15 L681.95 423.28 L682.71 423.42 L683.48 423.56 L684.24 423.70 L685.00 423.83" fill="none" stroke="#ffff00" stroke-width="2.75" stroke-linejoin="round"/>
<path d="M75.00 400.68 L75.76 400.50 L76.53 400.32 L77.29 400.15 L78.05 399.97 L78.81 399.79 L79.58 399.61 L80.34 399.43 L81.10 399.24 L81.86 399.06 L82.62 398.87 L83.39 398.69 L84.15 398.50 L84.91 398.31 L85.68 398.12 L86.44 397.92 L87.20 397.73 L87.96 397.53 L88.73 397.34 L89.49 397.14 L90.25 396.94 L91.01 396.74 L91.78 396.53 L92.54 396.33 L93.30 396.12 L94.06 395.91 L94.83 395.71 L95.59 395.49 L96.35 395.28 L97.11 395.07 L97.88 394.85 L98.64 394.64 L99.40 394.42 L100.16 394.20 L100.93 393.98 L101.69 393.75 L102.45 393.53 L103.21 393.30 L103.98 393.07 L104.74 392.84 L105.50 392.61 L106.26 392.37 L107.03 392.14 L107.79 391.90 L108.55 391.66 L109.31 391.42 L110.08 391.17 L110.84 390.93 L111.60 390.68 L112.36 390.43 L113.13 390.18 L113.89 389.93 L114.65 389.67 L115.41 389.41 L116.18 389.15 L116.94 388.89 L117.70 388.63 L118.46 388.36 L119.23 388.09 L119.99 387.82 L120.75 387.55 L121.51 387.28 L122.27 387.00 L123.04 386.72 L123.80 386.44 L124.56 386.16 L125.32 385.87 L126.09 385.58 L126.85 385.29 L127.61 385.00 L128.37 384.70 L129.14 384.41 L129.90 384.10 L130.66 383.80 L131.42 383.50 L132.19 383.19 L132.95 382.88 L133.71 382.56 L134.47 382.25 L135.24 381.93 L136.00 381.61 L136.76 381.28 L137.52 380.96 L138.29 380.63 L139.05 380.29 L139.81 379.96 L140.57 379.62 L141.34 379.28 L142.10 378.94 L142.86 378.59 L143.62 378.24 L144.39 377.89 L145.15 377.53 L145.91 377.17 L146.67 376.81 L147.44 376.44 L148.20 376.08 L148.96 375.70 L149.72 375.33 L150.49 374.95 L151.25 374.57 L152.01 374.18 L152.77 373.80 L153.54 373.41 L154.30 373.01 L155.06 372.61 L155.82 372.21 L156.59 371.81 L157.35 371.40 L158.11 370.98 L158.88 370.57 L159.64 370.15 L160.40 369.73 L161.16 369.30 L161.93 368.87 L162.69 368.43 L163.45 368.00 L164.21 367.55 L164.97 367.11 L165.74 366.66 L166.50 366.21 L167.26 365.75 L168.02 365.29 L168.79 364.82 L169.55 364.35 L170.31 363.88 L171.07 363.40 L171.84 362.92 L172.60 362.44 L173.36 361.95 L174.12 361.46 L174.89 360.96 L175.65 360.46 L176.41 359.95 L177.18 359.44 L177.94 358.93 L178.70 358.41 L179.46 357.89 L180.23 357.37 L180.99 356.84 L181.75 356.30 L182.51 355.76 L183.28 355.22 L184.04 354.67 L184.80 354.12 L185.56 353.57 L186.33 353.01 L187.09 352.44 L187.85 351.88 L188.61 351.31 L189.38 350.73 L190.14 350.15 L190.90 349.57 L191.66 348.98 L192.43 348.39 L193.19 347.80 L193.95 347.20 L194.71 346.59 L195.48 345.99 L196.24 345.38 L197.00 344.77 L197.76 344.15 L198.53 343.53 L199.29 342.91 L200.05 342.28 L200.81 341.65 L201.58 341.02 L202.34 340.38 L203.10 339.75 L203.86 339.11 L204.63 338.46 L205.39 337.82 L206.15 337.17 L206.91 336.52 L207.68 335.87 L208.44 335.22 L209.20 334.56 L209.96 333.91 L210.73 333.25 L211.49 332.59 L212.25 331.94 L213.01 331.28 L213.78 330.62 L214.54 329.96 L215.30 329.30 L216.06 328.65 L216.83 327.99 L217.59 327.33 L218.35 326.68 L219.11 326.03 L219.88 325.38 L220.64 324.73 L221.40 324.09 L222.16 323.45 L222.93 322.81 L223.69 322.18 L224.45 321.55 L225.21 320.92 L225.98 320.31 L226.74 319.69 L227.50 319.09 L228.26 318.48 L229.03 317.89 L229.79 317.30 L230.55 316.73 L231.31 316.16 L232.08 315.59 L232.84 315.04 L233.60 314.50 L234.36 313.97 L235.12 313.45 L235.89 312.94 L236.65 312.44 L237.41 311.95 L238.17 311.48 L238.94 311.02 L239.70 310.57 L240.46 310.14 L241.22 309.72 L241.99 309.32 L242.75 308.93 L243.51 308.56 L244.27 308.20 L245.04 307.86 L245.80 307.54 L246.56 307.24 L247.32 306.95 L248.09 306.69 L248.85 306.44 L249.61 306.21 L250.38 306.00 L251.14 305.81 L251.90 305.63 L252.66 305.48 L253.42 305.35 L254.19 305.24 L254.95 305.15 L255.71 305.08 L256.48 305.03 L257.24 305.00 L258.00 305.00 L258.76 305.01 L259.52 305.05 L260.29 305.10 L261.05 305.18 L261.81 305.27 L262.57 305.39 L263.34 305.53 L264.10 305.68 L264.86 305.86 L265.62 306.06 L266.39 306.27 L267.15 306.51 L267.91 306.76 L268.68 307.04 L269.44 307.33 L270.20 307.63 L270.96 307.96 L271.73 308.30 L272.49 308.66 L273.25 309.03 L274.01 309.42 L274.77 309.83 L275.54 310.25 L276.30 310.68 L277.06 311.12 L277.83 311.58 L278.59 312.05 L279.35 312.54 L280.11 313.03 L280.88 313.53 L281.64 314.05 L282.40 314.57 L283.16 315.11 L283.93 315.65 L284.69 316.20 L285.45 316.76 L286.21 317.32 L286.98 317.89 L287.74 318.47 L288.50 319.05 L289.26 319.63 L290.03 320.22 L290.79 320.82 L291.55 321.42 L292.31 322.02 L293.08 322.62 L293.84 323.23 L294.60 323.83 L295.36 324.44 L296.12 325.05 L296.89 325.66 L297.65 326.26 L298.41 326.87 L299.17 327.48 L299.94 328.09 L300.70 328.69 L301.46 329.29 L302.22 329.89 L302.99 330.49 L303.75 331.09 L304.51 331.68 L305.27 332.27 L306.04 332.85 L306.80 333.44 L307.56 334.01 L308.32 334.59 L309.09 335.16 L309.85 335.72 L310.61 336.28 L311.37 336.83 L312.14 337.38 L312.90 337.93 L313.66 338.47 L314.42 339.00 L315.19 339.53 L315.95 340.05 L316.71 340.56 L317.47 341.07 L318.24 341.57 L319.00 342.07 L319.76 342.56 L320.52 343.04 L321.29 343.52 L322.05 343.99 L322.81 344.46 L323.57 344.91 L324.34 345.36 L325.10 345.81 L325.86 346.24 L326.62 346.67 L327.39 347.10 L328.15 347.51 L328.91 347.92 L329.67 348.32 L330.44 348.72 L331.20 349.11 L331.96 349.49 L332.72 349.86 L333.49 350.23 L334.25 350.59 L335.01 350.94 L335.77 351.29 L336.54 351.63 L337.30 351.96 L338.06 352.29 L338.82 352.61 L339.59 352.92 L340.35 353.23 L341.11 353.53 L341.88 353.82 L342.64 354.10 L343.40 354.38 L344.16 354.66 L344.93 354.92 L345.69 355.18 L346.45 355.43 L347.21 355.68 L347.97 355.92 L348.74 356.15 L349.50 356.38 L350.26 356.60 L351.02 356.82 L351.79 357.03 L352.55 357.23 L353.31 357.43 L354.07 357.62 L354.84 357.81 L355.60 357.99 L356.36 358.16 L357.12 358.33 L357.89 358.49 L358.65 358.65 L359.41 358.80 L360.18 358.95 L360.94 359.09 L361.70 359.22 L362.46 359.35 L363.23 359.48 L363.99 359.60 L364.75 359.71 L365.51 359.82 L366.27 359.93 L367.04 360.03 L367.80 360.13 L368.56 360.22 L369.32 360.30 L370.09 360.39 L370.85 360.46 L371.61 360.54 L372.38 360.60 L373.14 360.67 L373.90 360.73 L374.66 360.78 L375.43 360.84 L376.19 360.88 L376.95 360.93 L377.71 360.97 L378.48 361.00 L379.24 361.04 L380.00 361.06 L380.76 361.09 L381.53 361.11 L382.29 361.13 L383.05 361.15 L383.81 361.16 L384.58 361.17 L385.34 361.17 L386.10 361.17 L386.86 361.17 L387.62 361.17 L388.39 361.16 L389.15 361.15 L389.91 361.14 L390.68 361.13 L391.44 361.11 L392.20 361.09 L392.96 361.07 L393.73 361.05 L394.49 361.02 L395.25 360.99 L396.01 360.96 L396.78 360.93 L397.54 360.90 L398.30 360.86 L399.06 360.82 L399.83 360.79 L400.59 360.74 L401.35 360.70 L402.11 360.66 L402.88 360.61 L403.64 360.57 L404.40 360.52 L405.16 360.47 L405.93 360.42 L406.69 360.37 L407.45 360.32 L408.21 360.27 L408.98 360.22 L409.74 360.16 L410.50 360.11 L411.26 360.06 L412.03 360.00 L412.79 359.95 L413.55 359.89 L414.31 359.84 L415.08 359.78 L415.84 359.73 L416.60 359.68 L417.36 359.62 L418.13 359.57 L418.89 359.51 L419.65 359.46 L420.41 359.41 L421.18 359.36 L421.94 359.31 L422.70 359.25 L423.46 359.21 L424.23 359.16 L424.99 359.11 L425.75 359.06 L426.51 359.02 L427.28 358.97 L428.04 358.93 L428.80 358.89 L429.56 358.85 L430.33 358.81 L431.09 358.78 L431.85 358.74 L432.61 358.71 L433.38 358.68 L434.14 358.65 L434.90 358.63 L435.66 358.60 L436.43 358.58 L437.19 358.56 L437.95 358.54 L438.71 358.53 L439.48 358.51 L440.24 358.50 L441.00 358.49 L441.76 358.49 L442.52 358.49 L443.29 358.49 L444.05 358.49 L444.81 358.50 L445.57 358.50 L446.34 358.52 L447.10 358.53 L447.86 358.55 L448.62 358.57 L449.39 358.59 L450.15 358.62 L450.91 358.65 L451.67 358.68 L452.44 358.72 L453.20 358.76 L453.96 358.81 L454.72 358.85 L455.49 358.90 L456.25 358.96 L457.01 359.02 L457.77 359.08 L458.54 359.14 L459.30 359.21 L460.06 359.28 L460.82 359.36 L461.59 359.44 L462.35 359.52 L463.11 359.61 L463.87 359.70 L464.64 359.79 L465.40 359.89 L466.16 359.99 L466.92 360.10 L467.69 360.21 L468.45 360.32 L469.21 360.44 L469.97 360.56 L470.74 360.68 L471.50 360.81 L472.26 360.94 L473.02 361.07 L473.79 361.21 L474.55 361.36 L475.31 361.50 L476.07 361.65 L476.84 361.81 L477.60 361.96 L478.36 362.12 L479.12 362.29 L479.89 362.45 L480.65 362.62 L481.41 362.80 L482.17 362.98 L482.94 363.16 L483.70 363.34 L484.46 363.53 L485.22 363.72 L485.99 363.92 L486.75 364.11 L487.51 364.31 L488.27 364.52 L489.04 364.73 L489.80 364.94 L490.56 365.15 L491.32 365.37 L492.09 365.58 L492.85 365.81 L493.61 366.03 L494.37 366.26 L495.14 366.49 L495.90 366.72 L496.66 366.96 L497.42 367.19 L498.19 367.43 L498.95 367.68 L499.71 367.92 L500.47 368.17 L501.24 368.42 L502.00 368.67 L502.76 368.93 L503.52 369.18 L504.29 369.44 L505.05 369.70 L505.81 369.97 L506.57 370.23 L507.34 370.50 L508.10 370.76 L508.86 371.03 L509.62 371.31 L510.39 371.58 L511.15 371.85 L511.91 372.13 L512.67 372.41 L513.44 372.69 L514.20 372.97 L514.96 373.25 L515.72 373.54 L516.49 373.82 L517.25 374.11 L518.01 374.39 L518.77 374.68 L519.54 374.97 L520.30 375.26 L521.06 375.55 L521.83 375.85 L522.59 376.14 L523.35 376.43 L524.11 376.73 L524.88 377.02 L525.64 377.32 L526.40 377.61 L527.16 377.91 L527.92 378.21 L528.69 378.51 L529.45 378.80 L530.21 379.10 L530.97 379.40 L531.74 379.70 L532.50 380.00 L533.26 380.30 L534.02 380.60 L534.79 380.90 L535.55 381.20 L536.31 381.50 L537.08 381.80 L537.84 382.10 L538.60 382.41 L539.36 382.71 L540.12 383.01 L540.89 383.31 L541.65 383.61 L542.41 383.91 L543.17 384.21 L543.94 384.51 L544.70 384.80 L545.46 385.10 L546.23 385.40 L546.99 385.70 L547.75 386.00 L548.51 386.30 L549.27 386.59 L550.04 386.89 L550.80 387.18 L551.56 387.48 L552.33 387.78 L553.09 388.07 L553.85 388.36 L554.61 388.66 L555.38 388.95 L556.14 389.24 L556.90 389.53 L557.66 389.82 L558.42 390.11 L559.19 390.40 L559.95 390.69 L560.71 390.98 L561.48 391.27 L562.24 391.55 L563.00 391.84 L563.76 392.12 L564.53 392.41 L565.29 392.69 L566.05 392.97 L566.81 393.25 L567.58 393.53 L568.34 393.81 L569.10 394.09 L569.86 394.37 L570.62 394.64 L571.39 394.92 L572.15 395.19 L572.91 395.47 L573.67 395.74 L574.44 396.01 L575.20 396.28 L575.96 396.55 L576.73 396.82 L577.49 397.09 L578.25 397.36 L579.01 397.62 L579.78 397.89 L580.54 398.15 L581.30 398.42 L582.06 398.68 L582.83 398.94 L583.59 399.20 L584.35 399.46 L585.11 399.72 L585.88 399.97 L586.64 400.23 L587.40 400.48 L588.16 400.74 L588.93 400.99 L589.69 401.24 L590.45 401.49 L591.21 401.74 L591.98 401.99 L592.74 402.24 L593.50 402.48 L594.26 402.73 L595.03 402.97 L595.79 403.21 L596.55 403.46 L597.31 403.70 L598.08 403.94 L598.84 404.17 L599.60 404.41 L600.36 404.65 L601.12 404.88 L601.89 405.12 L602.65 405.35 L603.41 405.58 L604.18 405.81 L604.94 406.04 L605.70 406.27 L606.46 406.50 L607.23 406.73 L607.99 406.95 L608.75 407.18 L609.51 407.40 L610.28 407.63 L611.04 407.85 L611.80 408.07 L612.56 408.29 L613.33 408.51 L614.09 408.72 L614.85 408.94 L615.61 409.15 L616.38 409.37 L617.14 409.58 L617.90 409.79 L618.66 410.01 L619.43 410.22 L620.19 410.42 L620.95 410.63 L621.71 410.84 L622.48 411.05 L623.24 411.25 L624.00 411.46 L624.76 411.66 L625.53 411.86 L626.29 412.06 L627.05 412.26 L627.81 412.46 L628.58 412.66 L629.34 412.86 L630.10 413.05 L630.86 413.25 L631.63 413.44 L632.39 413.64 L633.15 413.83 L633.91 414.02 L634.68 414.21 L635.44 414.40 L636.20 414.59 L636.96 414.78 L637.73 414.96 L638.49 415.15 L639.25 415.33 L640.01 415.52 L640.78 415.70 L641.54 415.88 L642.30 416.07 L643.06 416.25 L643.83 416.43 L644.59 416.60 L645.35 416.78 L646.11 416.96 L646.88 417.14 L647.64 417.31 L648.40 417.48 L649.16 417.66 L649.93 417.83 L650.69 418.00 L651.45 418.17 L652.21 418.34 L652.98 418.51 L653.74 418.68 L654.50 418.85 L655.26 419.02 L656.03 419.18 L656.79 419.35 L657.55 419.51 L658.31 419.67 L659.08 419.84 L659.84 420.00 L660.60 420.16 L661.36 420.32 L662.13 420.48 L662.89 420.64 L663.65 420.80 L664.41 420.95 L665.18 421.11 L665.94 421.27 L666.70 421.42 L667.46 421.57 L668.23 421.73 L668.99 421.88 L669.75 422.03 L670.51 422.18 L671.28 422.33 L672.04 422.48 L672.80 422.63 L673.56 422.78 L674.33 422.93 L675.09 423.08 L675.85 423.22 L676.61 423.37 L677.38 423.51 L678.14 423.66 L678.90 423.80 L679.66 423.94 L680.43 424.08 L681.19 424.22 L681.95 424.36 L682.71 424.50 L683.48 424.64 L684.24 424.78 L685.00 424.92" fill="none" stroke="#ff0000" stroke-width="2.75" stroke-dasharray="8 8" stroke-linejoin="round"/>
<path d="M75.00 400.83 L75.76 400.65 L76.53 400.48 L77.29 400.30 L78.05 400.13 L78.81 399.95 L79.58 399.77 L80.34 399.59 L81.10 399.41 L81.86 399.23 L82.62 399.04 L83.39 398.86 L84.15 398.67 L84.91 398.48 L85.68 398.29 L86.44 398.10 L87.20 397.91 L87.96 397.72 L88.73 397.52 L89.49 397.32 L90.25 397.13 L91.01 396.93 L91.78 396.73 L92.54 396.52 L93.30 396.32 L94.06 396.12 L94.83 395.91 L95.59 395.70 L96.35 395.49 L97.11 395.28 L97.88 395.07 L98.64 394.85 L99.40 394.63 L100.16 394.42 L100.93 394.20 L101.69 393.98 L102.45 393.75 L103.21 393.53 L103.98 393.30 L104.74 393.07 L105.50 392.84 L106.26 392.61 L107.03 392.38 L107.79 392.14 L108.55 391.91 L109.31 391.67 L110.08 391.43 L110.84 391.18 L111.60 390.94 L112.36 390.69 L113.13 390.44 L113.89 390.19 L114.65 389.94 L115.41 389.69 L116.18 389.43 L116.94 389.17 L117.70 388.91 L118.46 388.65 L119.23 388.38 L119.99 388.11 L120.75 387.84 L121.51 387.57 L122.27 387.30 L123.04 387.02 L123.80 386.74 L124.56 386.46 L125.32 386.18 L126.09 385.90 L126.85 385.61 L127.61 385.32 L128.37 385.02 L129.14 384.73 L129.90 384.43 L130.66 384.13 L131.42 383.83 L132.19 383.52 L132.95 383.21 L133.71 382.90 L134.47 382.59 L135.24 382.28 L136.00 381.96 L136.76 381.63 L137.52 381.31 L138.29 380.98 L139.05 380.65 L139.81 380.32 L140.57 379.99 L141.34 379.65 L142.10 379.30 L142.86 378.96 L143.62 378.61 L144.39 378.26 L145.15 377.91 L145.91 377.55 L146.67 377.19 L147.44 376.83 L148.20 376.46 L148.96 376.09 L149.72 375.72 L150.49 375.34 L151.25 374.96 L152.01 374.58 L152.77 374.19 L153.54 373.80 L154.30 373.40 L155.06 373.01 L155.82 372.61 L156.59 372.20 L157.35 371.79 L158.11 371.38 L158.88 370.96 L159.64 370.54 L160.40 370.12 L161.16 369.69 L161.93 369.26 L162.69 368.83 L163.45 368.39 L164.21 367.94 L164.97 367.49 L165.74 367.04 L166.50 366.59 L167.26 366.13 L168.02 365.66 L168.79 365.19 L169.55 364.72 L170.31 364.24 L171.07 363.76 L171.84 363.27 L172.60 362.78 L173.36 362.29 L174.12 361.79 L174.89 361.28 L175.65 360.77 L176.41 360.26 L177.18 359.74 L177.94 359.21 L178.70 358.69 L179.46 358.15 L180.23 357.62 L180.99 357.07 L181.75 356.52 L182.51 355.97 L183.28 355.41 L184.04 354.85 L184.80 354.28 L185.56 353.71 L186.33 353.13 L187.09 352.55 L187.85 351.96 L188.61 351.37 L189.38 350.77 L190.14 350.16 L190.90 349.56 L191.66 348.94 L192.43 348.32 L193.19 347.70 L193.95 347.07 L194.71 346.43 L195.48 345.79 L196.24 345.15 L197.00 344.50 L197.76 343.84 L198.53 343.18 L199.29 342.51 L200.05 341.84 L200.81 341.17 L201.58 340.49 L202.34 339.80 L203.10 339.11 L203.86 338.41 L204.63 337.71 L205.39 337.01 L206.15 336.30 L206.91 335.58 L207.68 334.86 L208.44 334.14 L209.20 333.41 L209.96 332.68 L210.73 331.95 L211.49 331.21 L212.25 330.46 L213.01 329.72 L213.78 328.97 L214.54 328.21 L215.30 327.45 L216.06 326.69 L216.83 325.93 L217.59 325.17 L218.35 324.40 L219.11 323.63 L219.88 322.86 L220.64 322.09 L221.40 321.32 L222.16 320.54 L222.93 319.77 L223.69 318.99 L224.45 318.22 L225.21 317.44 L225.98 316.67 L226.74 315.90 L227.50 315.12 L228.26 314.36 L229.03 313.59 L229.79 312.83 L230.55 312.07 L231.31 311.31 L232.08 310.56 L232.84 309.81 L233.60 309.07 L234.36 308.33 L235.12 307.61 L235.89 306.88 L236.65 306.17 L237.41 305.46 L238.17 304.77 L238.94 304.08 L239.70 303.40 L240.46 302.73 L241.22 302.08 L241.99 301.44 L242.75 300.81 L243.51 300.19 L244.27 299.59 L245.04 299.00 L245.80 298.43 L246.56 297.87 L247.32 297.33 L248.09 296.81 L248.85 296.30 L249.61 295.82 L250.38 295.35 L251.14 294.91 L251.90 294.48 L252.66 294.08 L253.42 293.70 L254.19 293.34 L254.95 293.01 L255.71 292.69 L256.48 292.41 L257.24 292.14 L258.00 291.91 L258.76 291.69 L259.52 291.51 L260.29 291.35 L261.05 291.21 L261.81 291.10 L262.57 291.02 L263.34 290.97 L264.10 290.94 L264.86 290.95 L265.62 290.97 L266.39 291.03 L267.15 291.11 L267.91 291.23 L268.68 291.36 L269.44 291.53 L270.20 291.72 L270.96 291.94 L271.73 292.19 L272.49 292.46 L273.25 292.76 L274.01 293.08 L274.77 293.43 L275.54 293.80 L276.30 294.20 L277.06 294.62 L277.83 295.06 L278.59 295.53 L279.35 296.01 L280.11 296.52 L280.88 297.05 L281.64 297.59 L282.40 298.16 L283.16 298.75 L283.93 299.35 L284.69 299.97 L285.45 300.60 L286.21 301.25 L286.98 301.92 L287.74 302.60 L288.50 303.29 L289.26 303.99 L290.03 304.71 L290.79 305.44 L291.55 306.17 L292.31 306.92 L293.08 307.67 L293.84 308.44 L294.60 309.21 L295.36 309.98 L296.12 310.76 L296.89 311.55 L297.65 312.34 L298.41 313.14 L299.17 313.94 L299.94 314.74 L300.70 315.54 L301.46 316.35 L302.22 317.15 L302.99 317.96 L303.75 318.76 L304.51 319.57 L305.27 320.38 L306.04 321.18 L306.80 321.98 L307.56 322.78 L308.32 323.57 L309.09 324.37 L309.85 325.16 L310.61 325.94 L311.37 326.72 L312.14 327.50 L312.90 328.27 L313.66 329.04 L314.42 329.80 L315.19 330.55 L315.95 331.30 L316.71 332.05 L317.47 332.78 L318.24 333.51 L319.00 334.24 L319.76 334.96 L320.52 335.67 L321.29 336.37 L322.05 337.06 L322.81 337.75 L323.57 338.43 L324.34 339.10 L325.10 339.77 L325.86 340.43 L326.62 341.07 L327.39 341.71 L328.15 342.35 L328.91 342.97 L329.67 343.59 L330.44 344.20 L331.20 344.79 L331.96 345.39 L332.72 345.97 L333.49 346.54 L334.25 347.11 L335.01 347.67 L335.77 348.22 L336.54 348.76 L337.30 349.29 L338.06 349.81 L338.82 350.33 L339.59 350.84 L340.35 351.33 L341.11 351.82 L341.88 352.31 L342.64 352.78 L343.40 353.25 L344.16 353.70 L344.93 354.15 L345.69 354.59 L346.45 355.03 L347.21 355.45 L347.97 355.87 L348.74 356.28 L349.50 356.68 L350.26 357.08 L351.02 357.46 L351.79 357.84 L352.55 358.21 L353.31 358.57 L354.07 358.93 L354.84 359.28 L355.60 359.62 L356.36 359.95 L357.12 360.28 L357.89 360.60 L358.65 360.91 L359.41 361.21 L360.18 361.51 L360.94 361.80 L361.70 362.09 L362.46 362.36 L363.23 362.63 L363.99 362.90 L364.75 363.16 L365.51 363.41 L366.27 363.65 L367.04 363.89 L367.80 364.12 L368.56 364.35 L369.32 364.57 L370.09 364.78 L370.85 364.99 L371.61 365.19 L372.38 365.39 L373.14 365.58 L373.90 365.76 L374.66 365.94 L375.43 366.11 L376.19 366.28 L376.95 366.44 L377.71 366.60 L378.48 366.75 L379.24 366.90 L380.00 367.04 L380.76 367.18 L381.53 367.31 L382.29 367.44 L383.05 367.56 L383.81 367.67 L384.58 367.79 L385.34 367.90 L386.10 368.00 L386.86 368.10 L387.62 368.19 L388.39 368.28 L389.15 368.37 L389.91 368.45 L390.68 368.53 L391.44 368.60 L392.20 368.67 L392.96 368.74 L393.73 368.80 L394.49 368.86 L395.25 368.92 L396.01 368.97 L396.78 369.02 L397.54 369.06 L398.30 369.10 L399.06 369.14 L399.83 369.18 L400.59 369.21 L401.35 369.24 L402.11 369.27 L402.88 369.29 L403.64 369.31 L404.40 369.33 L405.16 369.34 L405.93 369.36 L406.69 369.37 L407.45 369.37 L408.21 369.38 L408.98 369.38 L409.74 369.38 L410.50 369.38 L411.26 369.38 L412.03 369.37 L412.79 369.37 L413.55 369.36 L414.31 369.35 L415.08 369.34 L415.84 369.32 L416.60 369.31 L417.36 369.29 L418.13 369.27 L418.89 369.25 L419.65 369.23 L420.41 369.21 L421.18 369.19 L421.94 369.17 L422.70 369.14 L423.46 369.12 L424.23 369.09 L424.99 369.06 L425.75 369.04 L426.51 369.01 L427.28 368.98 L428.04 368.95 L428.80 368.92 L429.56 368.89 L430.33 368.86 L431.09 368.84 L431.85 368.81 L432.61 368.78 L433.38 368.75 L434.14 368.72 L434.90 368.69 L435.66 368.66 L436.43 368.63 L437.19 368.61 L437.95 368.58 L438.71 368.56 L439.48 368.53 L440.24 368.51 L441.00 368.48 L441.76 368.46 L442.52 368.44 L443.29 368.42 L444.05 368.40 L444.81 368.38 L445.57 368.36 L446.34 368.35 L447.10 368.33 L447.86 368.32 L448.62 368.31 L449.39 368.30 L450.15 368.29 L450.91 368.28 L451.67 368.28 L452.44 368.28 L453.20 368.28 L453.96 368.28 L454.72 368.28 L455.49 368.28 L456.25 368.29 L457.01 368.30 L457.77 368.31 L458.54 368.32 L459.30 368.34 L460.06 368.36 L460.82 368.38 L461.59 368.40 L462.35 368.43 L463.11 368.45 L463.87 368.48 L464.64 368.52 L465.40 368.55 L466.16 368.59 L466.92 368.63 L467.69 368.68 L468.45 368.72 L469.21 368.77 L469.97 368.82 L470.74 368.88 L471.50 368.93 L472.26 368.99 L473.02 369.06 L473.79 369.12 L474.55 369.19 L475.31 369.26 L476.07 369.34 L476.84 369.42 L477.60 369.50 L478.36 369.58 L479.12 369.67 L479.89 369.76 L480.65 369.85 L481.41 369.95 L482.17 370.05 L482.94 370.15 L483.70 370.25 L484.46 370.36 L485.22 370.47 L485.99 370.59 L486.75 370.70 L487.51 370.82 L488.27 370.95 L489.04 371.07 L489.80 371.20 L490.56 371.33 L491.32 371.47 L492.09 371.60 L492.85 371.75 L493.61 371.89 L494.37 372.03 L495.14 372.18 L495.90 372.34 L496.66 372.49 L497.42 372.65 L498.19 372.81 L498.95 372.97 L499.71 373.14 L500.47 373.31 L501.24 373.48 L502.00 373.65 L502.76 373.83 L503.52 374.01 L504.29 374.19 L505.05 374.37 L505.81 374.56 L506.57 374.75 L507.34 374.94 L508.10 375.13 L508.86 375.33 L509.62 375.52 L510.39 375.72 L511.15 375.93 L511.91 376.13 L512.67 376.34 L513.44 376.55 L514.20 376.76 L514.96 376.97 L515.72 377.18 L516.49 377.40 L517.25 377.62 L518.01 377.84 L518.77 378.06 L519.54 378.28 L520.30 378.51 L521.06 378.74 L521.83 378.97 L522.59 379.20 L523.35 379.43 L524.11 379.66 L524.88 379.89 L525.64 380.13 L526.40 380.37 L527.16 380.61 L527.92 380.85 L528.69 381.09 L529.45 381.33 L530.21 381.57 L530.97 381.82 L531.74 382.06 L532.50 382.31 L533.26 382.56 L534.02 382.81 L534.79 383.06 L535.55 383.31 L536.31 383.56 L537.08 383.81 L537.84 384.06 L538.60 384.32 L539.36 384.57 L540.12 384.82 L540.89 385.08 L541.65 385.34 L542.41 385.59 L543.17 385.85 L543.94 386.11 L544.70 386.36 L545.46 386.62 L546.23 386.88 L546.99 387.14 L547.75 387.40 L548.51 387.66 L549.27 387.92 L550.04 388.18 L550.80 388.44 L551.56 388.70 L552.33 388.96 L553.09 389.22 L553.85 389.48 L554.61 389.74 L555.38 390.00 L556.14 390.26 L556.90 390.52 L557.66 390.78 L558.42 391.04 L559.19 391.30 L559.95 391.56 L560.71 391.82 L561.48 392.07 L562.24 392.33 L563.00 392.59 L563.76 392.85 L564.53 393.11 L565.29 393.37 L566.05 393.62 L566.81 393.88 L567.58 394.14 L568.34 394.39 L569.10 394.65 L569.86 394.90 L570.62 395.16 L571.39 395.41 L572.15 395.67 L572.91 395.92 L573.67 396.17 L574.44 396.43 L575.20 396.68 L575.96 396.93 L576.73 397.18 L577.49 397.43 L578.25 397.68 L579.01 397.93 L579.78 398.18 L580.54 398.42 L581.30 398.67 L582.06 398.92 L582.83 399.16 L583.59 399.41 L584.35 399.65 L585.11 399.90 L585.88 400.14 L586.64 400.38 L587.40 400.62 L588.16 400.86 L588.93 401.10 L589.69 401.34 L590.45 401.58 L591.21 401.82 L591.98 402.05 L592.74 402.29 L593.50 402.52 L594.26 402.76 L595.03 402.99 L595.79 403.22 L596.55 403.46 L597.31 403.69 L598.08 403.92 L598.84 404.15 L599.60 404.37 L600.36 404.60 L601.12 404.83 L601.89 405.05 L602.65 405.28 L603.41 405.50 L604.18 405.73 L604.94 405.95 L605.70 406.17 L606.46 406.39 L607.23 406.61 L607.99 406.83 L608.75 407.05 L609.51 407.27 L610.28 407.48 L611.04 407.70 L611.80 407.91 L612.56 408.13 L613.33 408.34 L614.09 408.55 L614.85 408.76 L615.61 408.97 L616.38 409.18 L617.14 409.39 L617.90 409.60 L618.66 409.80 L619.43 410.01 L620.19 410.21 L620.95 410.42 L621.71 410.62 L622.48 410.82 L623.24 411.02 L624.00 411.23 L624.76 411.42 L625.53 411.62 L626.29 411.82 L627.05 412.02 L627.81 412.21 L628.58 412.41 L629.34 412.60 L630.10 412.80 L630.86 412.99 L631.63 413.18 L632.39 413.37 L633.15 413.56 L633.91 413.75 L634.68 413.94 L635.44 414.13 L636.20 414.31 L636.96 414.50 L637.73 414.68 L638.49 414.87 L639.25 415.05 L640.01 415.23 L640.78 415.42 L641.54 415.60 L642.30 415.78 L643.06 415.96 L643.83 416.13 L644.59 416.31 L645.35 416.49 L646.11 416.66 L646.88 416.84 L647.64 417.01 L648.40 417.19 L649.16 417.36 L649.93 417.53 L650.69 417.70 L651.45 417.87 L652.21 418.04 L652.98 418.21 L653.74 418.38 L654.50 418.54 L655.26 418.71 L656.03 418.88 L656.79 419.04 L657.55 419.20 L658.31 419.37 L659.08 419.53 L659.84 419.69 L660.60 419.85 L661.36 420.01 L662.13 420.17 L662.89 420.33 L663.65 420.49 L664.41 420.64 L665.18 420.80 L665.94 420.96 L666.70 421.11 L667.46 421.27 L668.23 421.42 L668.99 421.57 L669.75 421.72 L670.51 421.87 L671.28 422.03 L672.04 422.18 L672.80 422.32 L673.56 422.47 L674.33 422.62 L675.09 422.77 L675.85 422.91 L676.61 423.06 L677.38 423.20 L678.14 423.35 L678.90 423.49 L679.66 423.64 L680.43 423.78 L681.19 423.92 L681.95 424.06 L682.71 424.20 L683.48 424.34 L684.24 424.48 L685.00 424.62" fill="none" stroke="#00ffff" stroke-width="2.75" stroke-dasharray="8 8" stroke-linejoin="round"/>
<path d="M75.00 400.96 L75.76 400.79 L76.53 400.62 L77.29 400.44 L78.05 400.27 L78.81 400.09 L79.58 399.92 L80.34 399.74 L81.10 399.56 L81.86 399.38 L82.62 399.19 L83.39 399.01 L84.15 398.83 L84.91 398.64 L85.68 398.45 L86.44 398.26 L87.20 398.07 L87.96 397.88 L88.73 397.69 L89.49 397.49 L90.25 397.30 L91.01 397.10 L91.78 396.90 L92.54 396.70 L93.30 396.50 L94.06 396.30 L94.83 396.09 L95.59 395.89 L96.35 395.68 L97.11 395.47 L97.88 395.26 L98.64 395.05 L99.40 394.83 L100.16 394.62 L100.93 394.40 L101.69 394.18 L102.45 393.96 L103.21 393.74 L103.98 393.52 L104.74 393.29 L105.50 393.06 L106.26 392.83 L107.03 392.60 L107.79 392.37 L108.55 392.14 L109.31 391.90 L110.08 391.66 L110.84 391.42 L111.60 391.18 L112.36 390.94 L113.13 390.69 L113.89 390.44 L114.65 390.19 L115.41 389.94 L116.18 389.69 L116.94 389.43 L117.70 389.17 L118.46 388.91 L119.23 388.65 L119.99 388.39 L120.75 388.12 L121.51 387.85 L122.27 387.58 L123.04 387.31 L123.80 387.03 L124.56 386.75 L125.32 386.47 L126.09 386.19 L126.85 385.91 L127.61 385.62 L128.37 385.33 L129.14 385.04 L129.90 384.75 L130.66 384.45 L131.42 384.15 L132.19 383.85 L132.95 383.54 L133.71 383.23 L134.47 382.93 L135.24 382.61 L136.00 382.30 L136.76 381.98 L137.52 381.66 L138.29 381.33 L139.05 381.01 L139.81 380.68 L140.57 380.35 L141.34 380.01 L142.10 379.67 L142.86 379.33 L143.62 378.99 L144.39 378.64 L145.15 378.29 L145.91 377.94 L146.67 377.58 L147.44 377.22 L148.20 376.86 L148.96 376.49 L149.72 376.12 L150.49 375.75 L151.25 375.37 L152.01 374.99 L152.77 374.60 L153.54 374.22 L154.30 373.83 L155.06 373.43 L155.82 373.03 L156.59 372.63 L157.35 372.22 L158.11 371.81 L158.88 371.40 L159.64 370.98 L160.40 370.56 L161.16 370.14 L161.93 369.71 L162.69 369.27 L163.45 368.84 L164.21 368.39 L164.97 367.95 L165.74 367.50 L166.50 367.04 L167.26 366.58 L168.02 366.12 L168.79 365.65 L169.55 365.18 L170.31 364.70 L171.07 364.22 L171.84 363.73 L172.60 363.24 L173.36 362.75 L174.12 362.25 L174.89 361.74 L175.65 361.23 L176.41 360.71 L177.18 360.19 L177.94 359.67 L178.70 359.14 L179.46 358.60 L180.23 358.06 L180.99 357.51 L181.75 356.96 L182.51 356.40 L183.28 355.84 L184.04 355.27 L184.80 354.69 L185.56 354.11 L186.33 353.53 L187.09 352.94 L187.85 352.34 L188.61 351.74 L189.38 351.13 L190.14 350.51 L190.90 349.89 L191.66 349.27 L192.43 348.63 L193.19 348.00 L193.95 347.35 L194.71 346.70 L195.48 346.04 L196.24 345.38 L197.00 344.71 L197.76 344.03 L198.53 343.35 L199.29 342.66 L200.05 341.97 L200.81 341.26 L201.58 340.56 L202.34 339.84 L203.10 339.12 L203.86 338.39 L204.63 337.66 L205.39 336.92 L206.15 336.17 L206.91 335.42 L207.68 334.66 L208.44 333.89 L209.20 333.12 L209.96 332.34 L210.73 331.56 L211.49 330.77 L212.25 329.97 L213.01 329.17 L213.78 328.36 L214.54 327.54 L215.30 326.72 L216.06 325.90 L216.83 325.06 L217.59 324.23 L218.35 323.38 L219.11 322.53 L219.88 321.68 L220.64 320.82 L221.40 319.96 L222.16 319.09 L222.93 318.22 L223.69 317.34 L224.45 316.46 L225.21 315.58 L225.98 314.69 L226.74 313.80 L227.50 312.91 L228.26 312.01 L229.03 311.11 L229.79 310.21 L230.55 309.31 L231.31 308.41 L232.08 307.51 L232.84 306.60 L233.60 305.70 L234.36 304.80 L235.12 303.90 L235.89 303.00 L236.65 302.10 L237.41 301.21 L238.17 300.32 L238.94 299.44 L239.70 298.56 L240.46 297.68 L241.22 296.81 L241.99 295.95 L242.75 295.09 L243.51 294.25 L244.27 293.41 L245.04 292.58 L245.80 291.76 L246.56 290.96 L247.32 290.17 L248.09 289.39 L248.85 288.62 L249.61 287.87 L250.38 287.13 L251.14 286.42 L251.90 285.72 L252.66 285.03 L253.42 284.37 L254.19 283.73 L254.95 283.11 L255.71 282.51 L256.48 281.93 L257.24 281.38 L258.00 280.86 L258.76 280.36 L259.52 279.88 L260.29 279.44 L261.05 279.02 L261.81 278.63 L262.57 278.27 L263.34 277.94 L264.10 277.64 L264.86 277.38 L265.62 277.14 L266.39 276.94 L267.15 276.77 L267.91 276.64 L268.68 276.54 L269.44 276.48 L270.20 276.45 L270.96 276.45 L271.73 276.49 L272.49 276.56 L273.25 276.67 L274.01 276.82 L274.77 277.00 L275.54 277.21 L276.30 277.46 L277.06 277.74 L277.83 278.06 L278.59 278.41 L279.35 278.79 L280.11 279.21 L280.88 279.66 L281.64 280.14 L282.40 280.65 L283.16 281.19 L283.93 281.76 L284.69 282.35 L285.45 282.98 L286.21 283.63 L286.98 284.31 L287.74 285.01 L288.50 285.73 L289.26 286.48 L290.03 287.25 L290.79 288.04 L291.55 288.85 L292.31 289.68 L293.08 290.53 L293.84 291.40 L294.60 292.28 L295.36 293.17 L296.12 294.08 L296.89 295.00 L297.65 295.94 L298.41 296.88 L299.17 297.84 L299.94 298.80 L300.70 299.77 L301.46 300.75 L302.22 301.74 L302.99 302.73 L303.75 303.73 L304.51 304.73 L305.27 305.73 L306.04 306.74 L306.80 307.74 L307.56 308.75 L308.32 309.76 L309.09 310.77 L309.85 311.77 L310.61 312.78 L311.37 313.78 L312.14 314.78 L312.90 315.78 L313.66 316.77 L314.42 317.76 L315.19 318.75 L315.95 319.73 L316.71 320.70 L317.47 321.67 L318.24 322.63 L319.00 323.59 L319.76 324.53 L320.52 325.47 L321.29 326.41 L322.05 327.33 L322.81 328.25 L323.57 329.16 L324.34 330.06 L325.10 330.96 L325.86 331.84 L326.62 332.72 L327.39 333.58 L328.15 334.44 L328.91 335.29 L329.67 336.12 L330.44 336.95 L331.20 337.77 L331.96 338.58 L332.72 339.38 L333.49 340.17 L334.25 340.95 L335.01 341.72 L335.77 342.48 L336.54 343.23 L337.30 343.97 L338.06 344.70 L338.82 345.42 L339.59 346.13 L340.35 346.83 L341.11 347.52 L341.88 348.20 L342.64 348.87 L343.40 349.53 L344.16 350.18 L344.93 350.82 L345.69 351.45 L346.45 352.07 L347.21 352.68 L347.97 353.29 L348.74 353.88 L349.50 354.46 L350.26 355.03 L351.02 355.60 L351.79 356.15 L352.55 356.70 L353.31 357.23 L354.07 357.76 L354.84 358.28 L355.60 358.79 L356.36 359.29 L357.12 359.78 L357.89 360.26 L358.65 360.73 L359.41 361.20 L360.18 361.65 L360.94 362.10 L361.70 362.54 L362.46 362.97 L363.23 363.39 L363.99 363.81 L364.75 364.22 L365.51 364.61 L366.27 365.01 L367.04 365.39 L367.80 365.76 L368.56 366.13 L369.32 366.49 L370.09 366.84 L370.85 367.19 L371.61 367.53 L372.38 367.86 L373.14 368.18 L373.90 368.50 L374.66 368.80 L375.43 369.11 L376.19 369.40 L376.95 369.69 L377.71 369.97 L378.48 370.25 L379.24 370.52 L380.00 370.78 L380.76 371.04 L381.53 371.28 L382.29 371.53 L383.05 371.77 L383.81 372.00 L384.58 372.22 L385.34 372.44 L386.10 372.65 L386.86 372.86 L387.62 373.06 L388.39 373.26 L389.15 373.45 L389.91 373.64 L390.68 373.82 L391.44 373.99 L392.20 374.16 L392.96 374.33 L393.73 374.49 L394.49 374.64 L395.25 374.79 L396.01 374.93 L396.78 375.07 L397.54 375.21 L398.30 375.34 L399.06 375.47 L399.83 375.59 L400.59 375.71 L401.35 375.82 L402.11 375.93 L402.88 376.03 L403.64 376.13 L404.40 376.23 L405.16 376.32 L405.93 376.41 L406.69 376.49 L407.45 376.58 L408.21 376.65 L408.98 376.73 L409.74 376.80 L410.50 376.86 L411.26 376.93 L412.03 376.99 L412.79 377.04 L413.55 377.10 L414.31 377.15 L415.08 377.19 L415.84 377.24 L416.60 377.28 L417.36 377.32 L418.13 377.36 L418.89 377.39 L419.65 377.42 L420.41 377.45 L421.18 377.47 L421.94 377.50 L422.70 377.52 L423.46 377.54 L424.23 377.56 L424.99 377.57 L425.75 377.58 L426.51 377.59 L427.28 377.60 L428.04 377.61 L428.80 377.61 L429.56 377.62 L430.33 377.62 L431.09 377.62 L431.85 377.62 L432.61 377.62 L433.38 377.61 L434.14 377.61 L434.90 377.60 L435.66 377.59 L436.43 377.58 L437.19 377.57 L437.95 377.56 L438.71 377.55 L439.48 377.54 L440.24 377.53 L441.00 377.51 L441.76 377.50 L442.52 377.49 L443.29 377.47 L444.05 377.46 L444.81 377.44 L445.57 377.42 L446.34 377.41 L447.10 377.39 L447.86 377.38 L448.62 377.36 L449.39 377.34 L450.15 377.33 L450.91 377.31 L451.67 377.29 L452.44 377.28 L453.20 377.26 L453.96 377.25 L454.72 377.24 L455.49 377.22 L456.25 377.21 L457.01 377.20 L457.77 377.19 L458.54 377.18 L459.30 377.17 L460.06 377.16 L460.82 377.15 L461.59 377.14 L462.35 377.14 L463.11 377.13 L463.87 377.13 L464.64 377.13 L465.40 377.13 L466.16 377.13 L466.92 377.13 L467.69 377.13 L468.45 377.14 L469.21 377.15 L469.97 377.15 L470.74 377.16 L471.50 377.18 L472.26 377.19 L473.02 377.20 L473.79 377.22 L474.55 377.24 L475.31 377.26 L476.07 377.28 L476.84 377.31 L477.60 377.33 L478.36 377.36 L479.12 377.39 L479.89 377.43 L480.65 377.46 L481.41 377.50 L482.17 377.54 L482.94 377.58 L483.70 377.62 L484.46 377.67 L485.22 377.72 L485.99 377.77 L486.75 377.82 L487.51 377.88 L488.27 377.94 L489.04 378.00 L489.80 378.06 L490.56 378.12 L491.32 378.19 L492.09 378.26 L492.85 378.33 L493.61 378.41 L494.37 378.49 L495.14 378.57 L495.90 378.65 L496.66 378.73 L497.42 378.82 L498.19 378.91 L498.95 379.00 L499.71 379.10 L500.47 379.20 L501.24 379.30 L502.00 379.40 L502.76 379.50 L503.52 379.61 L504.29 379.72 L505.05 379.83 L505.81 379.95 L506.57 380.07 L507.34 380.19 L508.10 380.31 L508.86 380.43 L509.62 380.56 L510.39 380.69 L511.15 380.82 L511.91 380.96 L512.67 381.09 L513.44 381.23 L514.20 381.37 L514.96 381.52 L515.72 381.66 L516.49 381.81 L517.25 381.96 L518.01 382.11 L518.77 382.27 L519.54 382.42 L520.30 382.58 L521.06 382.74 L521.83 382.91 L522.59 383.07 L523.35 383.24 L524.11 383.41 L524.88 383.58 L525.64 383.75 L526.40 383.92 L527.16 384.10 L527.92 384.28 L528.69 384.46 L529.45 384.64 L530.21 384.82 L530.97 385.01 L531.74 385.19 L532.50 385.38 L533.26 385.57 L534.02 385.76 L534.79 385.95 L535.55 386.15 L536.31 386.34 L537.08 386.54 L537.84 386.74 L538.60 386.94 L539.36 387.14 L540.12 387.34 L540.89 387.55 L541.65 387.75 L542.41 387.96 L543.17 388.16 L543.94 388.37 L544.70 388.58 L545.46 388.79 L546.23 389.00 L546.99 389.21 L547.75 389.43 L548.51 389.64 L549.27 389.85 L550.04 390.07 L550.80 390.29 L551.56 390.50 L552.33 390.72 L553.09 390.94 L553.85 391.16 L554.61 391.38 L555.38 391.60 L556.14 391.82 L556.90 392.04 L557.66 392.26 L558.42 392.49 L559.19 392.71 L559.95 392.93 L560.71 393.15 L561.48 393.38 L562.24 393.60 L563.00 393.83 L563.76 394.05 L564.53 394.28 L565.29 394.50 L566.05 394.73 L566.81 394.96 L567.58 395.18 L568.34 395.41 L569.10 395.63 L569.86 395.86 L570.62 396.09 L571.39 396.31 L572.15 396.54 L572.91 396.77 L573.67 396.99 L574.44 397.22 L575.20 397.45 L575.96 397.67 L576.73 397.90 L577.49 398.12 L578.25 398.35 L579.01 398.58 L579.78 398.80 L580.54 399.03 L581.30 399.25 L582.06 399.48 L582.83 399.70 L583.59 399.92 L584.35 400.15 L585.11 400.37 L585.88 400.60 L586.64 400.82 L587.40 401.04 L588.16 401.26 L588.93 401.49 L589.69 401.71 L590.45 401.93 L591.21 402.15 L591.98 402.37 L592.74 402.59 L593.50 402.81 L594.26 403.03 L595.03 403.24 L595.79 403.46 L596.55 403.68 L597.31 403.90 L598.08 404.11 L598.84 404.33 L599.60 404.54 L600.36 404.76 L601.12 404.97 L601.89 405.19 L602.65 405.40 L603.41 405.61 L604.18 405.82 L604.94 406.04 L605.70 406.25 L606.46 406.46 L607.23 406.67 L607.99 406.87 L608.75 407.08 L609.51 407.29 L610.28 407.50 L611.04 407.70 L611.80 407.91 L612.56 408.11 L613.33 408.32 L614.09 408.52 L614.85 408.72 L615.61 408.93 L616.38 409.13 L617.14 409.33 L617.90 409.53 L618.66 409.73 L619.43 409.93 L620.19 410.12 L620.95 410.32 L621.71 410.52 L622.48 410.71 L623.24 410.91 L624.00 411.10 L624.76 411.30 L625.53 411.49 L626.29 411.68 L627.05 411.87 L627.81 412.06 L628.58 412.25 L629.34 412.44 L630.10 412.63 L630.86 412.82 L631.63 413.01 L632.39 413.19 L633.15 413.38 L633.91 413.56 L634.68 413.75 L635.44 413.93 L636.20 414.11 L636.96 414.30 L637.73 414.48 L638.49 414.66 L639.25 414.84 L640.01 415.02 L640.78 415.19 L641.54 415.37 L642.30 415.55 L643.06 415.73 L643.83 415.90 L644.59 416.08 L645.35 416.25 L646.11 416.42 L646.88 416.60 L647.64 416.77 L648.40 416.94 L649.16 417.11 L649.93 417.28 L650.69 417.45 L651.45 417.61 L652.21 417.78 L652.98 417.95 L653.74 418.11 L654.50 418.28 L655.26 418.44 L656.03 418.61 L656.79 418.77 L657.55 418.93 L658.31 419.10 L659.08 419.26 L659.84 419.42 L660.60 419.58 L661.36 419.74 L662.13 419.89 L662.89 420.05 L663.65 420.21 L664.41 420.36 L665.18 420.52 L665.94 420.67 L666.70 420.83 L667.46 420.98 L668.23 421.14 L668.99 421.29 L669.75 421.44 L670.51 421.59 L671.28 421.74 L672.04 421.89 L672.80 422.04 L673.56 422.19 L674.33 422.33 L675.09 422.48 L675.85 422.63 L676.61 422.77 L677.38 422.92 L678.14 423.06 L678.90 423.20 L679.66 423.35 L680.43 423.49 L681.19 423.63 L681.95 423.77 L682.71 423.91 L683.48 424.05 L684.24 424.19 L685.00 424.33" fill="none" stroke="#0000ff" stroke-width="2.75" stroke-dasharray="8 8" stroke-linejoin="round"/>
<path d="M75.00 401.08 L75.76 400.91 L76.53 400.74 L77.29 400.57 L78.05 400.40 L78.81 400.22 L79.58 400.05 L80.34 399.87 L81.10 399.69 L81.86 399.51 L82.62 399.33 L83.39 399.15 L84.15 398.97 L84.91 398.78 L85.68 398.60 L86.44 398.41 L87.20 398.22 L87.96 398.03 L88.73 397.84 L89.49 397.65 L90.25 397.45 L91.01 397.26 L91.78 397.06 L92.54 396.86 L93.30 396.66 L94.06 396.46 L94.83 396.26 L95.59 396.06 L96.35 395.85 L97.11 395.65 L97.88 395.44 L98.64 395.23 L99.40 395.01 L100.16 394.80 L100.93 394.59 L101.69 394.37 L102.45 394.15 L103.21 393.93 L103.98 393.71 L104.74 393.49 L105.50 393.26 L106.26 393.04 L107.03 392.81 L107.79 392.58 L108.55 392.35 L109.31 392.11 L110.08 391.88 L110.84 391.64 L111.60 391.40 L112.36 391.16 L113.13 390.92 L113.89 390.67 L114.65 390.42 L115.41 390.17 L116.18 389.92 L116.94 389.67 L117.70 389.42 L118.46 389.16 L119.23 388.90 L119.99 388.64 L120.75 388.37 L121.51 388.11 L122.27 387.84 L123.04 387.57 L123.80 387.30 L124.56 387.02 L125.32 386.75 L126.09 386.47 L126.85 386.19 L127.61 385.90 L128.37 385.62 L129.14 385.33 L129.90 385.04 L130.66 384.75 L131.42 384.45 L132.19 384.15 L132.95 383.85 L133.71 383.55 L134.47 383.24 L135.24 382.93 L136.00 382.62 L136.76 382.30 L137.52 381.99 L138.29 381.67 L139.05 381.34 L139.81 381.02 L140.57 380.69 L141.34 380.36 L142.10 380.02 L142.86 379.69 L143.62 379.35 L144.39 379.00 L145.15 378.66 L145.91 378.31 L146.67 377.95 L147.44 377.60 L148.20 377.24 L148.96 376.88 L149.72 376.51 L150.49 376.14 L151.25 375.77 L152.01 375.39 L152.77 375.01 L153.54 374.63 L154.30 374.24 L155.06 373.85 L155.82 373.46 L156.59 373.06 L157.35 372.66 L158.11 372.25 L158.88 371.84 L159.64 371.43 L160.40 371.01 L161.16 370.59 L161.93 370.16 L162.69 369.73 L163.45 369.30 L164.21 368.86 L164.97 368.42 L165.74 367.97 L166.50 367.52 L167.26 367.07 L168.02 366.61 L168.79 366.14 L169.55 365.67 L170.31 365.20 L171.07 364.72 L171.84 364.24 L172.60 363.75 L173.36 363.26 L174.12 362.76 L174.89 362.25 L175.65 361.75 L176.41 361.23 L177.18 360.71 L177.94 360.19 L178.70 359.66 L179.46 359.13 L180.23 358.59 L180.99 358.04 L181.75 357.49 L182.51 356.93 L183.28 356.37 L184.04 355.80 L184.80 355.23 L185.56 354.65 L186.33 354.06 L187.09 353.47 L187.85 352.87 L188.61 352.27 L189.38 351.65 L190.14 351.04 L190.90 350.41 L191.66 349.78 L192.43 349.15 L193.19 348.50 L193.95 347.85 L194.71 347.20 L195.48 346.53 L196.24 345.86 L197.00 345.19 L197.76 344.50 L198.53 343.81 L199.29 343.11 L200.05 342.41 L200.81 341.69 L201.58 340.97 L202.34 340.25 L203.10 339.51 L203.86 338.77 L204.63 338.02 L205.39 337.26 L206.15 336.50 L206.91 335.72 L207.68 334.94 L208.44 334.15 L209.20 333.36 L209.96 332.56 L210.73 331.74 L211.49 330.92 L212.25 330.10 L213.01 329.26 L213.78 328.42 L214.54 327.57 L215.30 326.71 L216.06 325.84 L216.83 324.97 L217.59 324.09 L218.35 323.20 L219.11 322.30 L219.88 321.40 L220.64 320.48 L221.40 319.56 L222.16 318.64 L222.93 317.70 L223.69 316.76 L224.45 315.81 L225.21 314.86 L225.98 313.89 L226.74 312.92 L227.50 311.95 L228.26 310.97 L229.03 309.98 L229.79 308.98 L230.55 307.99 L231.31 306.98 L232.08 305.97 L232.84 304.96 L233.60 303.94 L234.36 302.92 L235.12 301.89 L235.89 300.86 L236.65 299.83 L237.41 298.79 L238.17 297.76 L238.94 296.72 L239.70 295.68 L240.46 294.64 L241.22 293.60 L241.99 292.56 L242.75 291.52 L243.51 290.49 L244.27 289.46 L245.04 288.43 L245.80 287.41 L246.56 286.39 L247.32 285.38 L248.09 284.37 L248.85 283.37 L249.61 282.39 L250.38 281.41 L251.14 280.44 L251.90 279.48 L252.66 278.54 L253.42 277.61 L254.19 276.69 L254.95 275.79 L255.71 274.91 L256.48 274.05 L257.24 273.20 L258.00 272.38 L258.76 271.58 L259.52 270.80 L260.29 270.05 L261.05 269.32 L261.81 268.61 L262.57 267.94 L263.34 267.29 L264.10 266.68 L264.86 266.10 L265.62 265.54 L266.39 265.03 L267.15 264.54 L267.91 264.10 L268.68 263.69 L269.44 263.31 L270.20 262.98 L270.96 262.68 L271.73 262.43 L272.49 262.21 L273.25 262.04 L274.01 261.91 L274.77 261.82 L275.54 261.77 L276.30 261.77 L277.06 261.81 L277.83 261.89 L278.59 262.02 L279.35 262.19 L280.11 262.40 L280.88 262.66 L281.64 262.96 L282.40 263.30 L283.16 263.69 L283.93 264.12 L284.69 264.58 L285.45 265.09 L286.21 265.64 L286.98 266.22 L287.74 266.85 L288.50 267.51 L289.26 268.21 L290.03 268.94 L290.79 269.70 L291.55 270.50 L292.31 271.33 L293.08 272.19 L293.84 273.08 L294.60 273.99 L295.36 274.94 L296.12 275.90 L296.89 276.90 L297.65 277.91 L298.41 278.94 L299.17 280.00 L299.94 281.07 L300.70 282.16 L301.46 283.27 L302.22 284.39 L302.99 285.53 L303.75 286.67 L304.51 287.83 L305.27 289.00 L306.04 290.18 L306.80 291.36 L307.56 292.55 L308.32 293.75 L309.09 294.95 L309.85 296.15 L310.61 297.36 L311.37 298.57 L312.14 299.78 L312.90 300.99 L313.66 302.20 L314.42 303.40 L315.19 304.61 L315.95 305.81 L316.71 307.01 L317.47 308.20 L318.24 309.39 L319.00 310.57 L319.76 311.75 L320.52 312.92 L321.29 314.08 L322.05 315.24 L322.81 316.38 L323.57 317.52 L324.34 318.65 L325.10 319.78 L325.86 320.89 L326.62 321.99 L327.39 323.09 L328.15 324.17 L328.91 325.24 L329.67 326.31 L330.44 327.36 L331.20 328.40 L331.96 329.43 L332.72 330.45 L333.49 331.46 L334.25 332.45 L335.01 333.44 L335.77 334.41 L336.54 335.38 L337.30 336.33 L338.06 337.27 L338.82 338.19 L339.59 339.11 L340.35 340.01 L341.11 340.91 L341.88 341.79 L342.64 342.66 L343.40 343.52 L344.16 344.36 L344.93 345.20 L345.69 346.02 L346.45 346.83 L347.21 347.63 L347.97 348.42 L348.74 349.20 L349.50 349.96 L350.26 350.72 L351.02 351.46 L351.79 352.19 L352.55 352.92 L353.31 353.63 L354.07 354.33 L354.84 355.02 L355.60 355.70 L356.36 356.36 L357.12 357.02 L357.89 357.67 L358.65 358.31 L359.41 358.93 L360.18 359.55 L360.94 360.16 L361.70 360.75 L362.46 361.34 L363.23 361.92 L363.99 362.48 L364.75 363.04 L365.51 363.59 L366.27 364.13 L367.04 364.66 L367.80 365.18 L368.56 365.69 L369.32 366.19 L370.09 366.69 L370.85 367.17 L371.61 367.65 L372.38 368.11 L373.14 368.57 L373.90 369.02 L374.66 369.47 L375.43 369.90 L376.19 370.33 L376.95 370.74 L377.71 371.15 L378.48 371.56 L379.24 371.95 L380.00 372.34 L380.76 372.71 L381.53 373.09 L382.29 373.45 L383.05 373.81 L383.81 374.16 L384.58 374.50 L385.34 374.83 L386.10 375.16 L386.86 375.48 L387.62 375.80 L388.39 376.10 L389.15 376.40 L389.91 376.70 L390.68 376.98 L391.44 377.27 L392.20 377.54 L392.96 377.81 L393.73 378.07 L394.49 378.33 L395.25 378.58 L396.01 378.82 L396.78 379.06 L397.54 379.29 L398.30 379.52 L399.06 379.74 L399.83 379.96 L400.59 380.17 L401.35 380.37 L402.11 380.57 L402.88 380.77 L403.64 380.95 L404.40 381.14 L405.16 381.32 L405.93 381.49 L406.69 381.66 L407.45 381.82 L408.21 381.98 L408.98 382.14 L409.74 382.29 L410.50 382.43 L411.26 382.57 L412.03 382.71 L412.79 382.84 L413.55 382.97 L414.31 383.09 L415.08 383.21 L415.84 383.33 L416.60 383.44 L417.36 383.54 L418.13 383.65 L418.89 383.75 L419.65 383.84 L420.41 383.93 L421.18 384.02 L421.94 384.11 L422.70 384.19 L423.46 384.27 L424.23 384.34 L424.99 384.41 L425.75 384.48 L426.51 384.55 L427.28 384.61 L428.04 384.67 L428.80 384.72 L429.56 384.78 L430.33 384.83 L431.09 384.87 L431.85 384.92 L432.61 384.96 L433.38 385.00 L434.14 385.04 L434.90 385.07 L435.66 385.11 L436.43 385.14 L437.19 385.16 L437.95 385.19 L438.71 385.21 L439.48 385.23 L440.24 385.25 L441.00 385.27 L441.76 385.29 L442.52 385.30 L443.29 385.31 L444.05 385.32 L444.81 385.33 L445.57 385.34 L446.34 385.35 L447.10 385.35 L447.86 385.35 L448.62 385.35 L449.39 385.36 L450.15 385.35 L450.91 385.35 L451.67 385.35 L452.44 385.35 L453.20 385.34 L453.96 385.34 L454.72 385.33 L455.49 385.32 L456.25 385.31 L457.01 385.31 L457.77 385.30 L458.54 385.29 L459.30 385.28 L460.06 385.27 L460.82 385.26 L461.59 385.25 L462.35 385.24 L463.11 385.22 L463.87 385.21 L464.64 385.20 L465.40 385.19 L466.16 385.18 L466.92 385.17 L467.69 385.16 L468.45 385.15 L469.21 385.14 L469.97 385.13 L470.74 385.12 L471.50 385.11 L472.26 385.10 L473.02 385.09 L473.79 385.09 L474.55 385.08 L475.31 385.07 L476.07 385.07 L476.84 385.06 L477.60 385.06 L478.36 385.06 L479.12 385.06 L479.89 385.06 L480.65 385.06 L481.41 385.06 L482.17 385.06 L482.94 385.07 L483.70 385.07 L484.46 385.08 L485.22 385.09 L485.99 385.10 L486.75 385.11 L487.51 385.12 L488.27 385.13 L489.04 385.15 L489.80 385.16 L490.56 385.18 L491.32 385.20 L492.09 385.22 L492.85 385.25 L493.61 385.27 L494.37 385.30 L495.14 385.33 L495.90 385.36 L496.66 385.39 L497.42 385.42 L498.19 385.46 L498.95 385.50 L499.71 385.54 L500.47 385.58 L501.24 385.62 L502.00 385.67 L502.76 385.72 L503.52 385.76 L504.29 385.82 L505.05 385.87 L505.81 385.93 L506.57 385.98 L507.34 386.04 L508.10 386.11 L508.86 386.17 L509.62 386.24 L510.39 386.30 L511.15 386.37 L511.91 386.45 L512.67 386.52 L513.44 386.60 L514.20 386.68 L514.96 386.76 L515.72 386.84 L516.49 386.93 L517.25 387.01 L518.01 387.10 L518.77 387.20 L519.54 387.29 L520.30 387.39 L521.06 387.48 L521.83 387.58 L522.59 387.69 L523.35 387.79 L524.11 387.90 L524.88 388.01 L525.64 388.12 L526.40 388.23 L527.16 388.34 L527.92 388.46 L528.69 388.58 L529.45 388.70 L530.21 388.82 L530.97 388.95 L531.74 389.07 L532.50 389.20 L533.26 389.33 L534.02 389.47 L534.79 389.60 L535.55 389.74 L536.31 389.87 L537.08 390.01 L537.84 390.15 L538.60 390.30 L539.36 390.44 L540.12 390.59 L540.89 390.74 L541.65 390.88 L542.41 391.04 L543.17 391.19 L543.94 391.34 L544.70 391.50 L545.46 391.66 L546.23 391.82 L546.99 391.98 L547.75 392.14 L548.51 392.30 L549.27 392.46 L550.04 392.63 L550.80 392.80 L551.56 392.97 L552.33 393.14 L553.09 393.31 L553.85 393.48 L554.61 393.65 L555.38 393.83 L556.14 394.00 L556.90 394.18 L557.66 394.36 L558.42 394.54 L559.19 394.72 L559.95 394.90 L560.71 395.08 L561.48 395.26 L562.24 395.44 L563.00 395.63 L563.76 395.81 L564.53 396.00 L565.29 396.19 L566.05 396.37 L566.81 396.56 L567.58 396.75 L568.34 396.94 L569.10 397.13 L569.86 397.32 L570.62 397.51 L571.39 397.70 L572.15 397.90 L572.91 398.09 L573.67 398.28 L574.44 398.48 L575.20 398.67 L575.96 398.87 L576.73 399.06 L577.49 399.26 L578.25 399.45 L579.01 399.65 L579.78 399.84 L580.54 400.04 L581.30 400.24 L582.06 400.44 L582.83 400.63 L583.59 400.83 L584.35 401.03 L585.11 401.23 L585.88 401.42 L586.64 401.62 L587.40 401.82 L588.16 402.02 L588.93 402.22 L589.69 402.42 L590.45 402.61 L591.21 402.81 L591.98 403.01 L592.74 403.21 L593.50 403.41 L594.26 403.61 L595.03 403.80 L595.79 404.00 L596.55 404.20 L597.31 404.40 L598.08 404.60 L598.84 404.79 L599.60 404.99 L600.36 405.19 L601.12 405.38 L601.89 405.58 L602.65 405.78 L603.41 405.97 L604.18 406.17 L604.94 406.36 L605.70 406.56 L606.46 406.75 L607.23 406.95 L607.99 407.14 L608.75 407.34 L609.51 407.53 L610.28 407.72 L611.04 407.92 L611.80 408.11 L612.56 408.30 L613.33 408.49 L614.09 408.68 L614.85 408.88 L615.61 409.07 L616.38 409.26 L617.14 409.45 L617.90 409.63 L618.66 409.82 L619.43 410.01 L620.19 410.20 L620.95 410.39 L621.71 410.57 L622.48 410.76 L623.24 410.95 L624.00 411.13 L624.76 411.32 L625.53 411.50 L626.29 411.68 L627.05 411.87 L627.81 412.05 L628.58 412.23 L629.34 412.41 L630.10 412.59 L630.86 412.77 L631.63 412.95 L632.39 413.13 L633.15 413.31 L633.91 413.49 L634.68 413.67 L635.44 413.85 L636.20 414.02 L636.96 414.20 L637.73 414.37 L638.49 414.55 L639.25 414.72 L640.01 414.90 L640.78 415.07 L641.54 415.24 L642.30 415.41 L643.06 415.59 L643.83 415.76 L644.59 415.93 L645.35 416.10 L646.11 416.26 L646.88 416.43 L647.64 416.60 L648.40 416.77 L649.16 416.93 L649.93 417.10 L650.69 417.26 L651.45 417.43 L652.21 417.59 L652.98 417.76 L653.74 417.92 L654.50 418.08 L655.26 418.24 L656.03 418.40 L656.79 418.56 L657.55 418.72 L658.31 418.88 L659.08 419.04 L659.84 419.20 L660.60 419.36 L661.36 419.51 L662.13 419.67 L662.89 419.82 L663.65 419.98 L664.41 420.13 L665.18 420.29 L665.94 420.44 L666.70 420.59 L667.46 420.74 L668.23 420.89 L668.99 421.04 L669.75 421.19 L670.51 421.34 L671.28 421.49 L672.04 421.64 L672.80 421.79 L673.56 421.93 L674.33 422.08 L675.09 422.22 L675.85 422.37 L676.61 422.51 L677.38 422.66 L678.14 422.80 L678.90 422.94 L679.66 423.09 L680.43 423.23 L681.19 423.37 L681.95 423.51 L682.71 423.65 L683.48 423.79 L684.24 423.93 L685.00 424.06" fill="none" stroke="#ffff00" stroke-width="2.75" stroke-dasharray="8 8" stroke-linejoin="round"/>
</g>
<rect x="75.5" y="10.5" width="609.0" height="460.0" fill="none" stroke="#262626" stroke-width="1"/>
<line x1="75.50" y1="470.5" x2="75.50" y2="464.0" stroke="#262626" stroke-width="1"/>
<line x1="75.50" y1="10.5" x2="75.50" y2="17.0" stroke="#262626" stroke-width="1"/>
<text class="tk" x="75.60" y="496" text-anchor="middle">0.6</text>
<line x1="151.50" y1="470.5" x2="151.50" y2="464.0" stroke="#262626" stroke-width="1"/>
<line x1="151.50" y1="10.5" x2="151.50" y2="17.0" stroke="#262626" stroke-width="1"/>
<text class="tk" x="151.60" y="496" text-anchor="middle">0.7</text>
<line x1="227.50" y1="470.5" x2="227.50" y2="464.0" stroke="#262626" stroke-width="1"/>
<line x1="227.50" y1="10.5" x2="227.50" y2="17.0" stroke="#262626" stroke-width="1"/>
<text class="tk" x="227.60" y="496" text-anchor="middle">0.8</text>
<line x1="303.50" y1="470.5" x2="303.50" y2="464.0" stroke="#262626" stroke-width="1"/>
<line x1="303.50" y1="10.5" x2="303.50" y2="17.0" stroke="#262626" stroke-width="1"/>
<text class="tk" x="303.60" y="496" text-anchor="middle">0.9</text>
<line x1="380.50" y1="470.5" x2="380.50" y2="464.0" stroke="#262626" stroke-width="1"/>
<line x1="380.50" y1="10.5" x2="380.50" y2="17.0" stroke="#262626" stroke-width="1"/>
<text class="tk" x="380.60" y="496" text-anchor="middle"><tspan class="h1">1</tspan></text>
<line x1="456.50" y1="470.5" x2="456.50" y2="464.0" stroke="#262626" stroke-width="1"/>
<line x1="456.50" y1="10.5" x2="456.50" y2="17.0" stroke="#262626" stroke-width="1"/>
<text class="tk" x="456.60" y="496" text-anchor="middle"><tspan class="h1">1</tspan>.<tspan class="h1">1</tspan></text>
<line x1="532.50" y1="470.5" x2="532.50" y2="464.0" stroke="#262626" stroke-width="1"/>
<line x1="532.50" y1="10.5" x2="532.50" y2="17.0" stroke="#262626" stroke-width="1"/>
<text class="tk" x="532.60" y="496" text-anchor="middle"><tspan class="h1">1</tspan>.2</text>
<line x1="608.50" y1="470.5" x2="608.50" y2="464.0" stroke="#262626" stroke-width="1"/>
<line x1="608.50" y1="10.5" x2="608.50" y2="17.0" stroke="#262626" stroke-width="1"/>
<text class="tk" x="608.60" y="496" text-anchor="middle"><tspan class="h1">1</tspan>.3</text>
<line x1="684.50" y1="470.5" x2="684.50" y2="464.0" stroke="#262626" stroke-width="1"/>
<line x1="684.50" y1="10.5" x2="684.50" y2="17.0" stroke="#262626" stroke-width="1"/>
<text class="tk" x="684.60" y="496" text-anchor="middle"><tspan class="h1">1</tspan>.4</text>
<line x1="75.5" y1="470.50" x2="82.0" y2="470.50" stroke="#262626" stroke-width="1"/>
<line x1="684.5" y1="470.50" x2="678.0" y2="470.50" stroke="#262626" stroke-width="1"/>
<text class="tk" x="67.50" y="477.80" text-anchor="end">0</text>
<line x1="75.5" y1="405.50" x2="82.0" y2="405.50" stroke="#262626" stroke-width="1"/>
<line x1="684.5" y1="405.50" x2="678.0" y2="405.50" stroke="#262626" stroke-width="1"/>
<text class="tk" x="67.50" y="411.94" text-anchor="end">0.002</text>
<line x1="75.5" y1="339.50" x2="82.0" y2="339.50" stroke="#262626" stroke-width="1"/>
<line x1="684.5" y1="339.50" x2="678.0" y2="339.50" stroke="#262626" stroke-width="1"/>
<text class="tk" x="67.50" y="346.09" text-anchor="end">0.004</text>
<line x1="75.5" y1="273.50" x2="82.0" y2="273.50" stroke="#262626" stroke-width="1"/>
<line x1="684.5" y1="273.50" x2="678.0" y2="273.50" stroke="#262626" stroke-width="1"/>
<text class="tk" x="67.50" y="280.23" text-anchor="end">0.006</text>
<line x1="75.5" y1="207.50" x2="82.0" y2="207.50" stroke="#262626" stroke-width="1"/>
<line x1="684.5" y1="207.50" x2="678.0" y2="207.50" stroke="#262626" stroke-width="1"/>
<text class="tk" x="67.50" y="214.37" text-anchor="end">0.008</text>
<line x1="75.5" y1="141.50" x2="82.0" y2="141.50" stroke="#262626" stroke-width="1"/>
<line x1="684.5" y1="141.50" x2="678.0" y2="141.50" stroke="#262626" stroke-width="1"/>
<text class="tk" x="67.50" y="148.51" text-anchor="end">0.0<tspan class="h1">1</tspan></text>
<line x1="75.5" y1="75.50" x2="82.0" y2="75.50" stroke="#262626" stroke-width="1"/>
<line x1="684.5" y1="75.50" x2="678.0" y2="75.50" stroke="#262626" stroke-width="1"/>
<text class="tk" x="67.50" y="82.66" text-anchor="end">0.0<tspan class="h1">1</tspan>2</text>
<line x1="75.5" y1="10.50" x2="82.0" y2="10.50" stroke="#262626" stroke-width="1"/>
<line x1="684.5" y1="10.50" x2="678.0" y2="10.50" stroke="#262626" stroke-width="1"/>
<text class="tk" x="67.50" y="16.80" text-anchor="end">0.0<tspan class="h1">1</tspan>4</text>
<ellipse cx="207.55" cy="311.45" rx="5.1" ry="5.45" fill="none" stroke="#000" stroke-width="1.55"/>
<line x1="208.3" y1="314.9" x2="213.3" y2="318.0" stroke="#000" stroke-width="1.6"/>
<text class="bk" x="343" y="386" text-anchor="middle">P</text>
<text class="al" x="379.8" y="519" text-anchor="middle" style="letter-spacing:0.3px">f0</text>
<text class="al" transform="translate(15 240) rotate(-90)" text-anchor="middle">max X/m</text>
<rect x="494.5" y="27.5" width="173" height="147" fill="#ffffff" stroke="#262626" stroke-width="1"/>
<line x1="499.2" y1="39.50" x2="536.8" y2="39.50" stroke="#000000" stroke-width="2.75" stroke-dasharray="8 8"/>
<text class="lg" x="540" y="45.30" fill="#000">without TMD</text>
<line x1="499.2" y1="60.10" x2="536.8" y2="60.10" stroke="#0000ff" stroke-width="2.75"/>
<text class="lg" x="540" y="65.90" fill="#000">with TMD,λ=90%</text>
<line x1="499.2" y1="80.70" x2="536.8" y2="80.70" stroke="#ffff00" stroke-width="2.75"/>
<text class="lg" x="540" y="86.50" fill="#000">with TMD,λ=95%</text>
<line x1="499.2" y1="101.30" x2="536.8" y2="101.30" stroke="#ff0000" stroke-width="2.75" stroke-dasharray="8 8"/>
<text class="lg" x="540" y="107.10" fill="#000">with TMD,λ=<tspan class="h1">1</tspan>00%</text>
<line x1="499.2" y1="121.90" x2="536.8" y2="121.90" stroke="#00ffff" stroke-width="2.75" stroke-dasharray="8 8"/>
<text class="lg" x="540" y="127.70" fill="#000">with TMD,λ=<tspan class="h1">1</tspan>05%</text>
<line x1="499.2" y1="142.50" x2="536.8" y2="142.50" stroke="#0000ff" stroke-width="2.75" stroke-dasharray="8 8"/>
<text class="lg" x="540" y="148.30" fill="#000">with TMD,λ=<tspan class="h1">1</tspan><tspan class="h1">1</tspan>0%</text>
<line x1="499.2" y1="163.10" x2="536.8" y2="163.10" stroke="#ffff00" stroke-width="2.75" stroke-dasharray="8 8"/>
<text class="lg" x="540" y="168.90" fill="#000">with TMD,λ=<tspan class="h1">1</tspan><tspan class="h1">1</tspan>5%</text>
<path class="g1" style="fill:rgb(38, 38, 38);stroke:rgb(38, 38, 38)" transform="translate(375.897 496.000) scale(0.007812 -0.007812)" d="M763 0H583V1147Q518 1085 412.5 1023.0Q307 961 223 930V1104Q374 1175 487.0 1276.0Q600 1377 647 1466H763V0Z"/>
<path class="g1" style="fill:rgb(38, 38, 38);stroke:rgb(38, 38, 38)" transform="translate(444.717 496.000) scale(0.007812 -0.007812)" d="M763 0H583V1147Q518 1085 412.5 1023.0Q307 961 223 930V1104Q374 1175 487.0 1276.0Q600 1377 647 1466H763V0Z"/>
<path class="g1" style="fill:rgb(38, 38, 38);stroke:rgb(38, 38, 38)" transform="translate(459.077 496.000) scale(0.007812 -0.007812)" d="M763 0H583V1147Q518 1085 412.5 1023.0Q307 961 223 930V1104Q374 1175 487.0 1276.0Q600 1377 647 1466H763V0Z"/>
<path class="g1" style="fill:rgb(38, 38, 38);stroke:rgb(38, 38, 38)" transform="translate(520.725 496.000) scale(0.007812 -0.007812)" d="M763 0H583V1147Q518 1085 412.5 1023.0Q307 961 223 930V1104Q374 1175 487.0 1276.0Q600 1377 647 1466H763V0Z"/>
<path class="g1" style="fill:rgb(38, 38, 38);stroke:rgb(38, 38, 38)" transform="translate(596.725 496.000) scale(0.007812 -0.007812)" d="M763 0H583V1147Q518 1085 412.5 1023.0Q307 961 223 930V1104Q374 1175 487.0 1276.0Q600 1377 647 1466H763V0Z"/>
<path class="g1" style="fill:rgb(38, 38, 38);stroke:rgb(38, 38, 38)" transform="translate(672.725 496.000) scale(0.007812 -0.007812)" d="M763 0H583V1147Q518 1085 412.5 1023.0Q307 961 223 930V1104Q374 1175 487.0 1276.0Q600 1377 647 1466H763V0Z"/>
<path class="g1" style="fill:rgb(38, 38, 38);stroke:rgb(38, 38, 38)" transform="translate(58.094 148.510) scale(0.007812 -0.007812)" d="M763 0H583V1147Q518 1085 412.5 1023.0Q307 961 223 930V1104Q374 1175 487.0 1276.0Q600 1377 647 1466H763V0Z"/>
<path class="g1" style="fill:rgb(38, 38, 38);stroke:rgb(38, 38, 38)" transform="translate(48.688 82.660) scale(0.007812 -0.007812)" d="M763 0H583V1147Q518 1085 412.5 1023.0Q307 961 223 930V1104Q374 1175 487.0 1276.0Q600 1377 647 1466H763V0Z"/>
<path class="g1" style="fill:rgb(38, 38, 38);stroke:rgb(38, 38, 38)" transform="translate(48.688 16.800) scale(0.007812 -0.007812)" d="M763 0H583V1147Q518 1085 412.5 1023.0Q307 961 223 930V1104Q374 1175 487.0 1276.0Q600 1377 647 1466H763V0Z"/>
<path class="g1" style="fill:rgb(0, 0, 0);stroke:rgb(0, 0, 0)" transform="translate(623.469 107.100) scale(0.007080 -0.007080)" d="M763 0H583V1147Q518 1085 412.5 1023.0Q307 961 223 930V1104Q374 1175 487.0 1276.0Q600 1377 647 1466H763V0Z"/>
<path class="g1" style="fill:rgb(0, 0, 0);stroke:rgb(0, 0, 0)" transform="translate(623.469 127.700) scale(0.007080 -0.007080)" d="M763 0H583V1147Q518 1085 412.5 1023.0Q307 961 223 930V1104Q374 1175 487.0 1276.0Q600 1377 647 1466H763V0Z"/>
<path class="g1" style="fill:rgb(0, 0, 0);stroke:rgb(0, 0, 0)" transform="translate(623.469 148.300) scale(0.007080 -0.007080)" d="M763 0H583V1147Q518 1085 412.5 1023.0Q307 961 223 930V1104Q374 1175 487.0 1276.0Q600 1377 647 1466H763V0Z"/>
<path class="g1" style="fill:rgb(0, 0, 0);stroke:rgb(0, 0, 0)" transform="translate(630.719 148.300) scale(0.007080 -0.007080)" d="M763 0H583V1147Q518 1085 412.5 1023.0Q307 961 223 930V1104Q374 1175 487.0 1276.0Q600 1377 647 1466H763V0Z"/>
<path class="g1" style="fill:rgb(0, 0, 0);stroke:rgb(0, 0, 0)" transform="translate(623.469 168.900) scale(0.007080 -0.007080)" d="M763 0H583V1147Q518 1085 412.5 1023.0Q307 961 223 930V1104Q374 1175 487.0 1276.0Q600 1377 647 1466H763V0Z"/>
<path class="g1" style="fill:rgb(0, 0, 0);stroke:rgb(0, 0, 0)" transform="translate(630.719 168.900) scale(0.007080 -0.007080)" d="M763 0H583V1147Q518 1085 412.5 1023.0Q307 961 223 930V1104Q374 1175 487.0 1276.0Q600 1377 647 1466H763V0Z"/>
</svg>
</body></html>
